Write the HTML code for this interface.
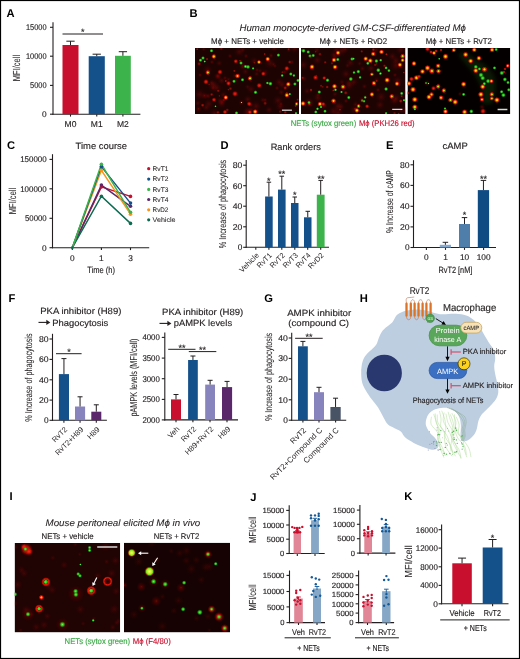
<!DOCTYPE html>
<html><head><meta charset="utf-8"><title>Figure</title>
<style>
html,body{margin:0;padding:0;background:#fff;}
body{width:520px;height:659px;overflow:hidden;}
svg{display:block;font-family:"Liberation Sans",sans-serif;will-change:transform;text-rendering:geometricPrecision;}
</style></head><body>
<svg width="520" height="659" viewBox="0 0 520 659" fill="#231f20">
<defs>
<radialGradient id="gLY"><stop offset="0" stop-color="#f0ff70"/><stop offset="0.35" stop-color="#c8f030"/><stop offset="0.62" stop-color="#80d818"/><stop offset="0.8" stop-color="#c84000" stop-opacity="0.6"/><stop offset="1" stop-color="#900000" stop-opacity="0"/></radialGradient>
<radialGradient id="gR"><stop offset="0" stop-color="#ff3010" stop-opacity="0.95"/><stop offset="0.45" stop-color="#d81408" stop-opacity="0.8"/><stop offset="1" stop-color="#900000" stop-opacity="0"/></radialGradient>
<radialGradient id="gY"><stop offset="0" stop-color="#f8f040"/><stop offset="0.26" stop-color="#f4c000"/><stop offset="0.46" stop-color="#f05010"/><stop offset="0.6" stop-color="#e02008" stop-opacity="0.9"/><stop offset="0.8" stop-color="#c01000" stop-opacity="0.55"/><stop offset="1" stop-color="#900000" stop-opacity="0"/></radialGradient>
<radialGradient id="gG"><stop offset="0" stop-color="#66ff44"/><stop offset="0.45" stop-color="#2ad620" stop-opacity="0.85"/><stop offset="1" stop-color="#109010" stop-opacity="0"/></radialGradient>
<radialGradient id="gGR"><stop offset="0" stop-color="#8cff3a"/><stop offset="0.25" stop-color="#b0d818"/><stop offset="0.45" stop-color="#f02c08"/><stop offset="0.75" stop-color="#d01000" stop-opacity="0.7"/><stop offset="1" stop-color="#900000" stop-opacity="0"/></radialGradient>
<radialGradient id="gD"><stop offset="0" stop-color="#a01008" stop-opacity="0.55"/><stop offset="1" stop-color="#500000" stop-opacity="0"/></radialGradient>
<radialGradient id="gRing"><stop offset="0" stop-color="#58ff38"/><stop offset="0.3" stop-color="#30d020"/><stop offset="0.42" stop-color="#802008" stop-opacity="0.85"/><stop offset="0.56" stop-color="#e81a08"/><stop offset="0.78" stop-color="#d01000" stop-opacity="0.75"/><stop offset="1" stop-color="#900000" stop-opacity="0"/></radialGradient>
<radialGradient id="gRing2"><stop offset="0" stop-color="#300000" stop-opacity="0.3"/><stop offset="0.45" stop-color="#700000" stop-opacity="0.6"/><stop offset="0.68" stop-color="#f01c08"/><stop offset="0.85" stop-color="#c81000" stop-opacity="0.7"/><stop offset="1" stop-color="#900000" stop-opacity="0"/></radialGradient>
<filter id="blur2" x="-20%" y="-20%" width="140%" height="140%"><feGaussianBlur stdDeviation="2"/></filter><filter id="blur05" x="-5%" y="-5%" width="110%" height="110%"><feGaussianBlur stdDeviation="0.45"/></filter></defs>
<text x="6.6" y="17.2" font-size="11.2" fill="#000" font-weight="bold">A</text>
<line x1="53" y1="22.3" x2="53" y2="114.75" stroke="#231f20" stroke-width="1.1" />
<line x1="50" y1="27.3" x2="53" y2="27.3" stroke="#231f20" stroke-width="1.1" />
<text x="46.6" y="30.2" font-size="8.3" text-anchor="end" stroke="#231f20" stroke-width="0.15" textLength="20.6" lengthAdjust="spacingAndGlyphs">15000</text>
<line x1="50" y1="56.2" x2="53" y2="56.2" stroke="#231f20" stroke-width="1.1" />
<text x="46.6" y="59.1" font-size="8.3" text-anchor="end" stroke="#231f20" stroke-width="0.15" textLength="20.6" lengthAdjust="spacingAndGlyphs">10000</text>
<line x1="50" y1="85.4" x2="53" y2="85.4" stroke="#231f20" stroke-width="1.1" />
<text x="46.6" y="88.3" font-size="8.3" text-anchor="end" stroke="#231f20" stroke-width="0.15" textLength="16.5" lengthAdjust="spacingAndGlyphs">5000</text>
<line x1="50" y1="114.2" x2="53" y2="114.2" stroke="#231f20" stroke-width="1.1" />
<text x="46.6" y="117.1" font-size="8.3" text-anchor="end" stroke="#231f20" stroke-width="0.15">0</text>
<line x1="52.45" y1="114.2" x2="140.4" y2="114.2" stroke="#231f20" stroke-width="1.1" />
<line x1="70.5" y1="114.2" x2="70.5" y2="116.6" stroke="#231f20" stroke-width="1.1" />
<line x1="96.75" y1="114.2" x2="96.75" y2="116.6" stroke="#231f20" stroke-width="1.1" />
<line x1="122.9" y1="114.2" x2="122.9" y2="116.6" stroke="#231f20" stroke-width="1.1" />
<rect x="62.5" y="45" width="16" height="69.2" fill="#c8102e" />
<line x1="70.5" y1="45" x2="70.5" y2="41.2" stroke="#231f20" stroke-width="1" />
<line x1="66.35" y1="41.2" x2="74.65" y2="41.2" stroke="#231f20" stroke-width="1" />
<rect x="88.7" y="56.2" width="16.1" height="58" fill="#14508a" />
<line x1="96.75" y1="56.2" x2="96.75" y2="54.2" stroke="#231f20" stroke-width="1" />
<line x1="92.6" y1="54.2" x2="100.9" y2="54.2" stroke="#231f20" stroke-width="1" />
<rect x="115" y="55.8" width="15.8" height="58.4" fill="#3cb44b" />
<line x1="122.9" y1="55.8" x2="122.9" y2="51.7" stroke="#231f20" stroke-width="1" />
<line x1="118.75" y1="51.7" x2="127.05" y2="51.7" stroke="#231f20" stroke-width="1" />
<line x1="62.5" y1="34" x2="103" y2="34" stroke="#231f20" stroke-width="1" />
<text x="82.7" y="34.84" font-size="9" text-anchor="middle" stroke="#231f20" stroke-width="0.15">*</text>
<text x="70.5" y="126.6" font-size="8.5" text-anchor="middle" stroke="#231f20" stroke-width="0.15">M0</text>
<text x="96.75" y="126.6" font-size="8.5" text-anchor="middle" stroke="#231f20" stroke-width="0.15">M1</text>
<text x="122.9" y="126.6" font-size="8.5" text-anchor="middle" stroke="#231f20" stroke-width="0.15">M2</text>
<text x="19.6" y="68" font-size="10.2" text-anchor="middle" stroke="#231f20" stroke-width="0.05" textLength="26.3" lengthAdjust="spacingAndGlyphs" transform="rotate(-90 19.6 68)">MFI/cell</text>
<text x="189.6" y="17.2" font-size="11.2" fill="#000" font-weight="bold">B</text>
<text x="352.7" y="31" font-size="9.3" text-anchor="middle" stroke="#231f20" stroke-width="0.07" font-style="italic" textLength="226.5" lengthAdjust="spacingAndGlyphs">Human monocyte-derived GM-CSF-differentiated Mϕ</text>
<text x="247.5" y="43.7" font-size="8.3" text-anchor="middle" stroke="#231f20" stroke-width="0.15" textLength="73" lengthAdjust="spacingAndGlyphs">Mϕ + NETs + vehicle</text>
<text x="353.4" y="43.7" font-size="8.3" text-anchor="middle" stroke="#231f20" stroke-width="0.15" textLength="67.6" lengthAdjust="spacingAndGlyphs">Mϕ + NETs + RvD2</text>
<text x="458.8" y="43.7" font-size="8.3" text-anchor="middle" stroke="#231f20" stroke-width="0.15" textLength="66.2" lengthAdjust="spacingAndGlyphs">Mϕ + NETs + RvT2</text>
<clipPath id="cB1"><rect x="195" y="48" width="104" height="66"/></clipPath>
<g clip-path="url(#cB1)">
<rect x="195" y="48" width="104" height="66" fill="#1e0303" />
<circle cx="208.97" cy="103.93" r="5.17" fill="url(#gD)" opacity="0.6"/>
<circle cx="221.53" cy="80.7" r="4.07" fill="url(#gD)" opacity="0.6"/>
<circle cx="262.77" cy="100.06" r="2.83" fill="url(#gD)" opacity="0.6"/>
<circle cx="197.95" cy="103.16" r="4.01" fill="url(#gD)" opacity="0.6"/>
<circle cx="274.28" cy="48.14" r="4.06" fill="url(#gD)" opacity="0.6"/>
<circle cx="270.04" cy="63.1" r="5.81" fill="url(#gD)" opacity="0.6"/>
<circle cx="288.75" cy="50.02" r="2.59" fill="url(#gD)" opacity="0.6"/>
<circle cx="251.31" cy="109.98" r="3.83" fill="url(#gD)" opacity="0.6"/>
<circle cx="217.53" cy="75.86" r="2.6" fill="url(#gD)" opacity="0.6"/>
<circle cx="218.06" cy="76.9" r="4.24" fill="url(#gD)" opacity="0.6"/>
<circle cx="219.24" cy="63.24" r="3.27" fill="url(#gD)" opacity="0.6"/>
<circle cx="242.8" cy="67.13" r="2.58" fill="url(#gD)" opacity="0.6"/>
<circle cx="282.11" cy="84.73" r="4.75" fill="url(#gD)" opacity="0.6"/>
<circle cx="214.33" cy="113.51" r="5.51" fill="url(#gD)" opacity="0.6"/>
<circle cx="207.57" cy="69.96" r="5.03" fill="url(#gD)" opacity="0.6"/>
<circle cx="268.96" cy="109.81" r="3.98" fill="url(#gD)" opacity="0.6"/>
<circle cx="281.32" cy="92.24" r="3.56" fill="url(#gD)" opacity="0.6"/>
<circle cx="256.11" cy="106.24" r="5.46" fill="url(#gD)" opacity="0.6"/>
<circle cx="247.55" cy="86.87" r="2.62" fill="url(#gD)" opacity="0.6"/>
<circle cx="220.24" cy="100.63" r="3.95" fill="url(#gD)" opacity="0.6"/>
<circle cx="212.99" cy="84.22" r="4.96" fill="url(#gD)" opacity="0.6"/>
<circle cx="265.15" cy="72.73" r="4.04" fill="url(#gD)" opacity="0.6"/>
<circle cx="247.88" cy="99.38" r="4.32" fill="url(#gD)" opacity="0.6"/>
<circle cx="235.9" cy="80.32" r="2.6" fill="url(#gD)" opacity="0.6"/>
<circle cx="199.52" cy="94.42" r="5.94" fill="url(#gD)" opacity="0.6"/>
<circle cx="256.69" cy="73.98" r="3.1" fill="url(#gD)" opacity="0.6"/>
<circle cx="247.23" cy="112.82" r="5.2" fill="url(#gD)" opacity="0.6"/>
<circle cx="251.12" cy="104.78" r="3.31" fill="url(#gD)" opacity="0.6"/>
<circle cx="248.43" cy="110.86" r="4.52" fill="url(#gD)" opacity="0.6"/>
<circle cx="242.75" cy="65.77" r="4.42" fill="url(#gD)" opacity="0.6"/>
<circle cx="294.54" cy="48.38" r="5.24" fill="url(#gD)" opacity="0.6"/>
<circle cx="280.33" cy="106.49" r="5.09" fill="url(#gD)" opacity="0.6"/>
<circle cx="279.15" cy="82.23" r="4.46" fill="url(#gD)" opacity="0.6"/>
<circle cx="239.31" cy="51.7" r="5.55" fill="url(#gD)" opacity="0.6"/>
<circle cx="254.28" cy="61.19" r="4.27" fill="url(#gD)" opacity="0.6"/>
<circle cx="245.43" cy="71.55" r="3.71" fill="url(#gD)" opacity="0.6"/>
<circle cx="251" cy="89.15" r="4.64" fill="url(#gD)" opacity="0.6"/>
<circle cx="242.65" cy="49.85" r="3.3" fill="url(#gD)" opacity="0.6"/>
<circle cx="213.43" cy="86.57" r="5.51" fill="url(#gD)" opacity="0.6"/>
<circle cx="278.04" cy="100.61" r="5.36" fill="url(#gD)" opacity="0.6"/>
<circle cx="221.55" cy="103.56" r="4.86" fill="url(#gD)" opacity="0.6"/>
<circle cx="203.66" cy="49.1" r="2.55" fill="url(#gD)" opacity="0.6"/>
<circle cx="273.58" cy="64.47" r="2.88" fill="url(#gD)" opacity="0.6"/>
<circle cx="259.98" cy="70.73" r="2.74" fill="url(#gD)" opacity="0.6"/>
<circle cx="211.6" cy="82.81" r="3.09" fill="url(#gD)" opacity="0.6"/>
<circle cx="223.38" cy="94.96" r="4.09" fill="url(#gD)" opacity="0.6"/>
<circle cx="228.49" cy="79.27" r="2.58" fill="url(#gD)" opacity="0.6"/>
<circle cx="235.2" cy="75.78" r="3.16" fill="url(#gD)" opacity="0.6"/>
<circle cx="206.31" cy="107.39" r="4.29" fill="url(#gD)" opacity="0.6"/>
<circle cx="216.75" cy="87.97" r="5.36" fill="url(#gD)" opacity="0.6"/>
<circle cx="197.17" cy="49.18" r="1.35" fill="url(#gR)" opacity="0.6"/>
<circle cx="211.66" cy="94.5" r="1.88" fill="url(#gR)" opacity="0.54"/>
<circle cx="217.94" cy="112.39" r="2" fill="url(#gR)" opacity="0.53"/>
<circle cx="218.21" cy="90.8" r="1.59" fill="url(#gR)" opacity="0.55"/>
<circle cx="228.41" cy="89.64" r="1.26" fill="url(#gR)" opacity="0.45"/>
<circle cx="295.66" cy="105.79" r="1.51" fill="url(#gR)" opacity="0.65"/>
<circle cx="227.28" cy="109.99" r="1.94" fill="url(#gR)" opacity="0.5"/>
<circle cx="221.25" cy="48.56" r="2.08" fill="url(#gR)" opacity="0.36"/>
<circle cx="280.22" cy="111.51" r="1.77" fill="url(#gR)" opacity="0.41"/>
<circle cx="285.25" cy="112.27" r="1.9" fill="url(#gR)" opacity="0.53"/>
<circle cx="234.31" cy="70.9" r="1.41" fill="url(#gR)" opacity="0.59"/>
<circle cx="240.03" cy="60.81" r="1.3" fill="url(#gR)" opacity="0.58"/>
<circle cx="225.79" cy="80.99" r="1.53" fill="url(#gR)" opacity="0.66"/>
<circle cx="288.57" cy="49.19" r="1.4" fill="url(#gR)" opacity="0.46"/>
<circle cx="297.65" cy="99.66" r="1.54" fill="url(#gR)" opacity="0.42"/>
<circle cx="265.14" cy="103.29" r="2.13" fill="url(#gR)" opacity="0.47"/>
<circle cx="286.77" cy="93.35" r="1.68" fill="url(#gR)" opacity="0.69"/>
<circle cx="219.4" cy="95.88" r="1.28" fill="url(#gR)" opacity="0.41"/>
<circle cx="289.74" cy="62.06" r="1.96" fill="url(#gR)" opacity="0.56"/>
<circle cx="282.48" cy="72.3" r="1.54" fill="url(#gR)" opacity="0.45"/>
<circle cx="285.21" cy="87.86" r="2.15" fill="url(#gR)" opacity="0.66"/>
<circle cx="209.08" cy="84.38" r="1.3" fill="url(#gR)" opacity="0.36"/>
<circle cx="202.61" cy="105.17" r="1.99" fill="url(#gR)" opacity="0.64"/>
<circle cx="230.45" cy="88.6" r="1.98" fill="url(#gR)" opacity="0.48"/>
<circle cx="254.36" cy="62.77" r="1.28" fill="url(#gR)" opacity="0.44"/>
<circle cx="287.64" cy="85.25" r="2.13" fill="url(#gR)" opacity="0.51"/>
<circle cx="223.83" cy="99.94" r="2.03" fill="url(#gR)" opacity="0.35"/>
<circle cx="264.72" cy="54.05" r="1.32" fill="url(#gR)" opacity="0.66"/>
<circle cx="199.16" cy="63.82" r="2.19" fill="url(#gR)" opacity="0.5"/>
<circle cx="207.02" cy="59.05" r="1.44" fill="url(#gR)" opacity="0.61"/>
<g filter="url(#blur05)">
<circle cx="211.5" cy="50.8" r="2.03" fill="url(#gG)" />
<circle cx="213.8" cy="56.5" r="2.65" fill="url(#gY)" />
<circle cx="203" cy="58" r="2.03" fill="url(#gG)" />
<circle cx="200.5" cy="60.2" r="2.03" fill="url(#gG)" />
<circle cx="204.7" cy="61.5" r="1.4" fill="url(#gG)" />
<circle cx="235.8" cy="61.3" r="2.5" fill="url(#gR)" />
<circle cx="241" cy="63" r="2.03" fill="url(#gG)" />
<circle cx="245.5" cy="66.5" r="2.03" fill="url(#gG)" />
<circle cx="207.8" cy="72.5" r="2.65" fill="url(#gGR)" />
<circle cx="220" cy="72" r="2.81" fill="url(#gR)" />
<circle cx="218" cy="76" r="3.51" fill="url(#gD)" />
<circle cx="237.5" cy="76" r="2.65" fill="url(#gGR)" />
<circle cx="242.5" cy="79.8" r="2.03" fill="url(#gG)" />
<circle cx="234" cy="81.3" r="2.03" fill="url(#gG)" />
<circle cx="206" cy="81.8" r="2.96" fill="url(#gR)" />
<circle cx="228.5" cy="83.3" r="2.73" fill="url(#gR)" />
<circle cx="235" cy="93.8" r="3.12" fill="url(#gR)" />
<circle cx="204.5" cy="95.8" r="3.9" fill="url(#gD)" />
<circle cx="208" cy="96" r="3.12" fill="url(#gD)" />
<circle cx="225.8" cy="97.5" r="2.65" fill="url(#gY)" />
<circle cx="214" cy="99.8" r="2.5" fill="url(#gR)" />
<circle cx="222" cy="102" r="3.51" fill="url(#gD)" />
<circle cx="241.5" cy="102.5" r="3.12" fill="url(#gD)" />
<circle cx="241.5" cy="102.5" r="1.09" fill="url(#gG)" />
<circle cx="215.5" cy="106.3" r="1.25" fill="url(#gG)" />
<circle cx="198.5" cy="109" r="3.51" fill="url(#gD)" />
<circle cx="236.5" cy="113" r="2.03" fill="url(#gG)" />
<circle cx="225" cy="112" r="2.5" fill="url(#gR)" />
<circle cx="212" cy="62" r="2.34" fill="url(#gD)" />
<circle cx="230" cy="56" r="2.34" fill="url(#gD)" />
<circle cx="225" cy="78" r="2.34" fill="url(#gD)" />
<circle cx="246" cy="56" r="2.34" fill="url(#gD)" />
<circle cx="200" cy="75" r="2.34" fill="url(#gD)" />
<circle cx="213" cy="88" r="2.34" fill="url(#gD)" />
<circle cx="267.7" cy="59" r="2.65" fill="url(#gY)" />
<circle cx="271" cy="55.6" r="2.73" fill="url(#gD)" />
<circle cx="278.4" cy="55.1" r="2.03" fill="url(#gG)" />
<circle cx="259" cy="62.1" r="2.34" fill="url(#gY)" />
<circle cx="248" cy="66.9" r="2.34" fill="url(#gG)" />
<circle cx="253.1" cy="68.4" r="1.56" fill="url(#gG)" />
<circle cx="286.8" cy="68.4" r="2.73" fill="url(#gR)" />
<circle cx="284.7" cy="72" r="2.73" fill="url(#gD)" />
<circle cx="263.3" cy="73.7" r="2.57" fill="url(#gR)" />
<circle cx="290.8" cy="74" r="2.03" fill="url(#gG)" />
<circle cx="282.2" cy="75.5" r="1.72" fill="url(#gG)" />
<circle cx="293.9" cy="75.5" r="1.72" fill="url(#gG)" />
<circle cx="250" cy="78.4" r="2.65" fill="url(#gGR)" />
<circle cx="270.4" cy="83.7" r="2.34" fill="url(#gG)" />
<circle cx="267.4" cy="83" r="1.72" fill="url(#gG)" />
<circle cx="259.2" cy="85.5" r="2.96" fill="url(#gR)" />
<circle cx="288.3" cy="84.2" r="2.65" fill="url(#gY)" />
<circle cx="294.9" cy="84" r="2.03" fill="url(#gG)" />
<circle cx="298" cy="80.4" r="2.03" fill="url(#gG)" />
<circle cx="255.5" cy="92.3" r="2.18" fill="url(#gG)" />
<circle cx="286.8" cy="95.2" r="2.65" fill="url(#gY)" />
<circle cx="289.8" cy="94.1" r="1.56" fill="url(#gG)" />
<circle cx="249.2" cy="103.9" r="2.73" fill="url(#gR)" />
<circle cx="296.6" cy="103.9" r="2.18" fill="url(#gGR)" />
<circle cx="255.2" cy="111.7" r="2.81" fill="url(#gY)" />
<circle cx="249.9" cy="112.2" r="2.5" fill="url(#gR)" />
<circle cx="296" cy="113.2" r="1.56" fill="url(#gG)" />
<circle cx="257" cy="70" r="2.34" fill="url(#gD)" />
<circle cx="277" cy="88" r="2.34" fill="url(#gD)" />
<circle cx="281" cy="104" r="2.34" fill="url(#gD)" />
<circle cx="265" cy="100" r="2.34" fill="url(#gD)" />
<circle cx="292" cy="62" r="2.34" fill="url(#gD)" />
<circle cx="275" cy="66" r="1.95" fill="url(#gD)" />
</g>
<line x1="281.9" y1="110.2" x2="291.9" y2="110.2" stroke="#d8d8d8" stroke-width="1.3" />
</g>
<clipPath id="cB2"><rect x="301" y="48" width="104.5" height="66"/></clipPath>
<g clip-path="url(#cB2)">
<rect x="301" y="48" width="104.5" height="66" fill="#1e0303" />
<circle cx="400.91" cy="110.56" r="2.7" fill="url(#gD)" opacity="0.6"/>
<circle cx="309.87" cy="103.14" r="5.08" fill="url(#gD)" opacity="0.6"/>
<circle cx="370.99" cy="68.34" r="4.62" fill="url(#gD)" opacity="0.6"/>
<circle cx="364.41" cy="86.36" r="3.05" fill="url(#gD)" opacity="0.6"/>
<circle cx="346" cy="73.97" r="5.03" fill="url(#gD)" opacity="0.6"/>
<circle cx="404.96" cy="110.66" r="4.4" fill="url(#gD)" opacity="0.6"/>
<circle cx="347.49" cy="65.7" r="2.63" fill="url(#gD)" opacity="0.6"/>
<circle cx="303.87" cy="78.68" r="3.61" fill="url(#gD)" opacity="0.6"/>
<circle cx="340.71" cy="106.86" r="4.34" fill="url(#gD)" opacity="0.6"/>
<circle cx="359.57" cy="63.58" r="2.58" fill="url(#gD)" opacity="0.6"/>
<circle cx="334.98" cy="57.02" r="4.29" fill="url(#gD)" opacity="0.6"/>
<circle cx="405.36" cy="92.52" r="3.14" fill="url(#gD)" opacity="0.6"/>
<circle cx="394.38" cy="100.59" r="5.07" fill="url(#gD)" opacity="0.6"/>
<circle cx="395.74" cy="98.35" r="5.26" fill="url(#gD)" opacity="0.6"/>
<circle cx="337.97" cy="112.74" r="5.87" fill="url(#gD)" opacity="0.6"/>
<circle cx="317.84" cy="97.76" r="5" fill="url(#gD)" opacity="0.6"/>
<circle cx="349.22" cy="83" r="4.22" fill="url(#gD)" opacity="0.6"/>
<circle cx="397.64" cy="81.06" r="5.41" fill="url(#gD)" opacity="0.6"/>
<circle cx="337.99" cy="106.27" r="5.65" fill="url(#gD)" opacity="0.6"/>
<circle cx="349.18" cy="85.47" r="5.72" fill="url(#gD)" opacity="0.6"/>
<circle cx="376.63" cy="80.12" r="3.28" fill="url(#gD)" opacity="0.6"/>
<circle cx="334.93" cy="94.17" r="3.08" fill="url(#gD)" opacity="0.6"/>
<circle cx="395.88" cy="65.7" r="5.69" fill="url(#gD)" opacity="0.6"/>
<circle cx="333.35" cy="111.19" r="4.97" fill="url(#gD)" opacity="0.6"/>
<circle cx="353.69" cy="82.17" r="4.78" fill="url(#gD)" opacity="0.6"/>
<circle cx="362.44" cy="68.58" r="3.23" fill="url(#gD)" opacity="0.6"/>
<circle cx="354.49" cy="109.65" r="4.68" fill="url(#gD)" opacity="0.6"/>
<circle cx="308.88" cy="102.15" r="5.04" fill="url(#gD)" opacity="0.6"/>
<circle cx="395.85" cy="60.63" r="5.11" fill="url(#gD)" opacity="0.6"/>
<circle cx="307.14" cy="91.09" r="3.46" fill="url(#gD)" opacity="0.6"/>
<circle cx="324.68" cy="105.78" r="2.87" fill="url(#gD)" opacity="0.6"/>
<circle cx="355.59" cy="104.36" r="3.36" fill="url(#gD)" opacity="0.6"/>
<circle cx="323" cy="106.12" r="3.98" fill="url(#gD)" opacity="0.6"/>
<circle cx="375.92" cy="50.1" r="3.77" fill="url(#gD)" opacity="0.6"/>
<circle cx="318.96" cy="92.4" r="2.79" fill="url(#gD)" opacity="0.6"/>
<circle cx="400.75" cy="49.67" r="5.05" fill="url(#gD)" opacity="0.6"/>
<circle cx="303.21" cy="64.88" r="5.35" fill="url(#gD)" opacity="0.6"/>
<circle cx="317.42" cy="60.13" r="4.92" fill="url(#gD)" opacity="0.6"/>
<circle cx="341.29" cy="50.85" r="5.97" fill="url(#gD)" opacity="0.6"/>
<circle cx="316.82" cy="50.39" r="3.7" fill="url(#gD)" opacity="0.6"/>
<circle cx="365.29" cy="97" r="2.9" fill="url(#gD)" opacity="0.6"/>
<circle cx="336.24" cy="50.03" r="4.07" fill="url(#gD)" opacity="0.6"/>
<circle cx="381.04" cy="96.84" r="5.66" fill="url(#gD)" opacity="0.6"/>
<circle cx="379.97" cy="104.92" r="4.97" fill="url(#gD)" opacity="0.6"/>
<circle cx="350.41" cy="62.88" r="4.81" fill="url(#gD)" opacity="0.6"/>
<circle cx="334.05" cy="54.74" r="4.07" fill="url(#gD)" opacity="0.6"/>
<circle cx="392.41" cy="56.42" r="4.55" fill="url(#gD)" opacity="0.6"/>
<circle cx="342.06" cy="81.98" r="3" fill="url(#gD)" opacity="0.6"/>
<circle cx="401.29" cy="65.1" r="4.62" fill="url(#gD)" opacity="0.6"/>
<circle cx="344.86" cy="49.19" r="4.45" fill="url(#gD)" opacity="0.6"/>
<circle cx="315.69" cy="51.75" r="1.23" fill="url(#gR)" opacity="0.41"/>
<circle cx="311.02" cy="89.91" r="1.71" fill="url(#gR)" opacity="0.69"/>
<circle cx="398.62" cy="113.64" r="1.43" fill="url(#gR)" opacity="0.51"/>
<circle cx="327.21" cy="87.02" r="1.82" fill="url(#gR)" opacity="0.63"/>
<circle cx="375.14" cy="64.94" r="1.62" fill="url(#gR)" opacity="0.53"/>
<circle cx="301.5" cy="50.34" r="1.61" fill="url(#gR)" opacity="0.39"/>
<circle cx="376.63" cy="63.9" r="1.3" fill="url(#gR)" opacity="0.41"/>
<circle cx="325.19" cy="62.35" r="1.72" fill="url(#gR)" opacity="0.51"/>
<circle cx="333.37" cy="90.36" r="1.41" fill="url(#gR)" opacity="0.67"/>
<circle cx="401.65" cy="96.11" r="1.63" fill="url(#gR)" opacity="0.53"/>
<circle cx="361.72" cy="51.38" r="1.62" fill="url(#gR)" opacity="0.53"/>
<circle cx="319.94" cy="54.19" r="2" fill="url(#gR)" opacity="0.48"/>
<circle cx="355.26" cy="108.82" r="1.81" fill="url(#gR)" opacity="0.45"/>
<circle cx="403.78" cy="72.57" r="1.22" fill="url(#gR)" opacity="0.59"/>
<circle cx="311.57" cy="68.19" r="2.04" fill="url(#gR)" opacity="0.59"/>
<circle cx="302.64" cy="77.79" r="1.61" fill="url(#gR)" opacity="0.52"/>
<circle cx="322.76" cy="86.86" r="1.27" fill="url(#gR)" opacity="0.45"/>
<circle cx="339.97" cy="109.73" r="1.28" fill="url(#gR)" opacity="0.61"/>
<circle cx="321.1" cy="85.72" r="1.59" fill="url(#gR)" opacity="0.51"/>
<circle cx="379.75" cy="74.07" r="1.32" fill="url(#gR)" opacity="0.39"/>
<circle cx="309.41" cy="104.1" r="1.84" fill="url(#gR)" opacity="0.69"/>
<circle cx="373.38" cy="49.63" r="1.86" fill="url(#gR)" opacity="0.62"/>
<circle cx="376.61" cy="80.86" r="1.56" fill="url(#gR)" opacity="0.51"/>
<circle cx="384.47" cy="65.75" r="1.73" fill="url(#gR)" opacity="0.52"/>
<circle cx="400.77" cy="101.09" r="2.13" fill="url(#gR)" opacity="0.64"/>
<circle cx="332.01" cy="63.29" r="1.69" fill="url(#gR)" opacity="0.44"/>
<circle cx="345.69" cy="92.82" r="2.12" fill="url(#gR)" opacity="0.56"/>
<circle cx="386.47" cy="54.33" r="1.56" fill="url(#gR)" opacity="0.7"/>
<circle cx="316.31" cy="75.51" r="1.27" fill="url(#gR)" opacity="0.38"/>
<circle cx="394.58" cy="113.25" r="1.85" fill="url(#gR)" opacity="0.39"/>
<g filter="url(#blur05)">
<circle cx="303.5" cy="50.8" r="2.34" fill="url(#gG)" />
<circle cx="308.2" cy="52" r="2.03" fill="url(#gG)" />
<circle cx="310" cy="56" r="2.03" fill="url(#gG)" />
<circle cx="313.2" cy="55.5" r="2.03" fill="url(#gG)" />
<circle cx="338" cy="52.8" r="2.65" fill="url(#gY)" />
<circle cx="334" cy="60" r="2.65" fill="url(#gY)" />
<circle cx="337.8" cy="59.5" r="2.03" fill="url(#gG)" />
<circle cx="352" cy="59" r="2.03" fill="url(#gG)" />
<circle cx="312" cy="66.8" r="2.81" fill="url(#gY)" />
<circle cx="335" cy="67" r="2.73" fill="url(#gY)" />
<circle cx="315.5" cy="77.5" r="2.81" fill="url(#gR)" />
<circle cx="324.2" cy="78" r="2.18" fill="url(#gR)" />
<circle cx="327.5" cy="80.2" r="2.18" fill="url(#gG)" />
<circle cx="350.8" cy="79" r="2.34" fill="url(#gG)" />
<circle cx="334.5" cy="86.3" r="2.81" fill="url(#gY)" />
<circle cx="343" cy="86.8" r="2.81" fill="url(#gGR)" />
<circle cx="335.5" cy="89.8" r="1.72" fill="url(#gG)" />
<circle cx="319.3" cy="92" r="2.03" fill="url(#gG)" />
<circle cx="341.5" cy="92" r="1.56" fill="url(#gG)" />
<circle cx="348.8" cy="97.5" r="2.03" fill="url(#gG)" />
<circle cx="333.5" cy="100.8" r="2.73" fill="url(#gGR)" />
<circle cx="303" cy="103.5" r="2.81" fill="url(#gY)" />
<circle cx="309" cy="102.5" r="1.95" fill="url(#gG)" />
<circle cx="320" cy="104" r="2.65" fill="url(#gY)" />
<circle cx="323.2" cy="104" r="2.34" fill="url(#gR)" />
<circle cx="321" cy="107" r="1.56" fill="url(#gG)" />
<circle cx="317.5" cy="108.8" r="1.72" fill="url(#gG)" />
<circle cx="315.8" cy="112" r="1.95" fill="url(#gG)" />
<circle cx="325" cy="111.2" r="1.95" fill="url(#gG)" />
<circle cx="311" cy="57" r="2.34" fill="url(#gD)" />
<circle cx="318" cy="95" r="2.34" fill="url(#gD)" />
<circle cx="346" cy="101" r="2.34" fill="url(#gD)" />
<circle cx="381.5" cy="51.9" r="2.65" fill="url(#gY)" />
<circle cx="373.2" cy="53.9" r="2.65" fill="url(#gGR)" />
<circle cx="402.6" cy="56.2" r="2.65" fill="url(#gGR)" />
<circle cx="353.5" cy="58.7" r="1.56" fill="url(#gG)" />
<circle cx="365.7" cy="58.7" r="2.65" fill="url(#gY)" />
<circle cx="370.3" cy="60.7" r="2.81" fill="url(#gY)" />
<circle cx="376.4" cy="61" r="2.18" fill="url(#gG)" />
<circle cx="380.7" cy="60.2" r="1.72" fill="url(#gG)" />
<circle cx="402.6" cy="60.2" r="2.34" fill="url(#gY)" />
<circle cx="367.8" cy="63.3" r="1.95" fill="url(#gG)" />
<circle cx="399.9" cy="64.8" r="2.65" fill="url(#gY)" />
<circle cx="378.3" cy="70.2" r="2.34" fill="url(#gG)" />
<circle cx="386.1" cy="67.9" r="1.87" fill="url(#gG)" />
<circle cx="388.9" cy="70.6" r="1.87" fill="url(#gG)" />
<circle cx="358.3" cy="71.6" r="2.18" fill="url(#gG)" />
<circle cx="354" cy="72.5" r="1.72" fill="url(#gG)" />
<circle cx="380.5" cy="73.5" r="1.72" fill="url(#gG)" />
<circle cx="371.9" cy="74.3" r="2.18" fill="url(#gGR)" />
<circle cx="360.1" cy="77.4" r="1.72" fill="url(#gG)" />
<circle cx="387.1" cy="80.1" r="2.96" fill="url(#gY)" />
<circle cx="373.9" cy="83.2" r="2.65" fill="url(#gGR)" />
<circle cx="397" cy="83.7" r="2.65" fill="url(#gY)" />
<circle cx="386.1" cy="89" r="2.18" fill="url(#gG)" />
<circle cx="401.7" cy="93.4" r="1.95" fill="url(#gG)" />
<circle cx="371.9" cy="94.4" r="2.65" fill="url(#gY)" />
<circle cx="391.7" cy="96.4" r="2.65" fill="url(#gGR)" />
<circle cx="365.2" cy="97.4" r="1.72" fill="url(#gG)" />
<circle cx="362.2" cy="100.5" r="1.72" fill="url(#gG)" />
<circle cx="364" cy="101.2" r="1.72" fill="url(#gG)" />
<circle cx="404" cy="100.2" r="1.56" fill="url(#gG)" />
<circle cx="358.6" cy="106.1" r="2.34" fill="url(#gGR)" />
<circle cx="367.1" cy="106.3" r="2.34" fill="url(#gR)" />
<circle cx="356.9" cy="110.4" r="2.65" fill="url(#gY)" />
<circle cx="386.1" cy="113.2" r="1.56" fill="url(#gG)" />
<circle cx="362" cy="100" r="3.12" fill="url(#gD)" />
<circle cx="395" cy="75" r="2.34" fill="url(#gD)" />
<circle cx="378" cy="90" r="2.34" fill="url(#gD)" />
</g>
<line x1="392.2" y1="109.4" x2="402.4" y2="109.4" stroke="#d8d8d8" stroke-width="1.3" />
</g>
<clipPath id="cB3"><rect x="407.5" y="48" width="102.8" height="66"/></clipPath>
<g clip-path="url(#cB3)">
<rect x="407.5" y="48" width="102.8" height="66" fill="#050000" />
<path d="M466 52 C476 62 482 60 492 72 C498 80 496 92 492 104 L482 104 C484 92 480 82 474 74 C468 66 462 60 458 54 Z" fill="#174d10" opacity="0.35" filter="url(#blur2)"/>
<g filter="url(#blur05)">
<circle cx="427.5" cy="49" r="2.73" fill="url(#gR)" />
<circle cx="431" cy="52" r="1.95" fill="url(#gR)" />
<circle cx="436" cy="51" r="1.95" fill="url(#gR)" />
<circle cx="441" cy="50" r="1.56" fill="url(#gR)" />
<circle cx="434" cy="53" r="2.34" fill="url(#gY)" />
<circle cx="445.5" cy="56.5" r="3.12" fill="url(#gY)" />
<circle cx="453.8" cy="50.2" r="2.34" fill="url(#gGR)" />
<circle cx="439.2" cy="58.8" r="1.25" fill="url(#gG)" />
<circle cx="414" cy="63.5" r="2.73" fill="url(#gY)" />
<circle cx="427.5" cy="68" r="3.12" fill="url(#gY)" />
<circle cx="438.2" cy="65.8" r="2.65" fill="url(#gGR)" />
<circle cx="422.5" cy="71.5" r="2.73" fill="url(#gY)" />
<circle cx="431.8" cy="71" r="3.12" fill="url(#gGR)" />
<circle cx="438.5" cy="71.2" r="2.65" fill="url(#gGR)" />
<circle cx="411.5" cy="79" r="2.73" fill="url(#gR)" />
<circle cx="416.5" cy="77.8" r="2.96" fill="url(#gY)" />
<circle cx="419" cy="76.5" r="2.34" fill="url(#gR)" />
<circle cx="409" cy="83.5" r="2.73" fill="url(#gY)" />
<circle cx="413" cy="89.5" r="3.12" fill="url(#gY)" />
<circle cx="427" cy="83" r="3.51" fill="url(#gD)" />
<circle cx="426" cy="83" r="1.17" fill="url(#gG)" />
<circle cx="428.5" cy="83.5" r="1.17" fill="url(#gG)" />
<circle cx="438.2" cy="86.5" r="2.65" fill="url(#gGR)" />
<circle cx="433.5" cy="88.3" r="2.65" fill="url(#gR)" />
<circle cx="443.8" cy="90.5" r="2.65" fill="url(#gGR)" />
<circle cx="431.5" cy="94.5" r="2.65" fill="url(#gGR)" />
<circle cx="429" cy="97" r="2.96" fill="url(#gY)" />
<circle cx="441" cy="97.7" r="2.65" fill="url(#gGR)" />
<circle cx="414.8" cy="99.5" r="3.12" fill="url(#gY)" />
<circle cx="450.5" cy="100" r="2.65" fill="url(#gGR)" />
<circle cx="455.2" cy="102" r="3.12" fill="url(#gY)" />
<circle cx="414.8" cy="107" r="2.96" fill="url(#gY)" />
<circle cx="414.8" cy="109.2" r="1.56" fill="url(#gG)" />
<circle cx="445" cy="108.5" r="1.56" fill="url(#gG)" />
<circle cx="445.5" cy="111.5" r="2.73" fill="url(#gY)" />
<circle cx="407.5" cy="93" r="1.95" fill="url(#gR)" />
<circle cx="474.3" cy="49.8" r="2.65" fill="url(#gY)" />
<circle cx="492.1" cy="49.8" r="2.65" fill="url(#gY)" />
<circle cx="496.2" cy="49.5" r="1.95" fill="url(#gG)" />
<circle cx="465.6" cy="54.6" r="2.96" fill="url(#gY)" />
<circle cx="478.9" cy="58.2" r="2.73" fill="url(#gY)" />
<circle cx="470.7" cy="61" r="2.81" fill="url(#gY)" />
<circle cx="475.8" cy="66.9" r="2.34" fill="url(#gG)" />
<circle cx="475.8" cy="70.6" r="2.96" fill="url(#gY)" />
<circle cx="479.4" cy="68.9" r="1.87" fill="url(#gG)" />
<circle cx="484.5" cy="69.4" r="2.96" fill="url(#gGR)" />
<circle cx="494.5" cy="67.9" r="1.95" fill="url(#gG)" />
<circle cx="507.7" cy="65.8" r="2.18" fill="url(#gGR)" />
<circle cx="505" cy="69" r="1.56" fill="url(#gR)" />
<circle cx="504" cy="72" r="1.56" fill="url(#gR)" />
<circle cx="501.8" cy="73" r="2.5" fill="url(#gG)" />
<circle cx="481" cy="75" r="2.65" fill="url(#gG)" />
<circle cx="482.7" cy="78.1" r="2.65" fill="url(#gG)" />
<circle cx="504.9" cy="79.4" r="2.34" fill="url(#gG)" />
<circle cx="488.1" cy="81.1" r="2.5" fill="url(#gG)" />
<circle cx="491.4" cy="81.1" r="2.34" fill="url(#gY)" />
<circle cx="508" cy="82.5" r="1.95" fill="url(#gG)" />
<circle cx="463.6" cy="84.2" r="2.96" fill="url(#gY)" />
<circle cx="484.3" cy="83.7" r="2.03" fill="url(#gG)" />
<circle cx="482.7" cy="86.7" r="2.96" fill="url(#gY)" />
<circle cx="508.8" cy="89.8" r="2.03" fill="url(#gG)" />
<circle cx="501.6" cy="91.8" r="2.03" fill="url(#gG)" />
<circle cx="463.6" cy="94.4" r="1.95" fill="url(#gG)" />
<circle cx="480.9" cy="94.4" r="3.12" fill="url(#gY)" />
<circle cx="491.8" cy="94.4" r="2.65" fill="url(#gGR)" />
<circle cx="503.4" cy="95.1" r="2.5" fill="url(#gG)" />
<circle cx="491.8" cy="98.5" r="2.34" fill="url(#gGR)" />
<circle cx="496.9" cy="100" r="3.12" fill="url(#gY)" />
<circle cx="482" cy="99.5" r="2.34" fill="url(#gGR)" />
<circle cx="460" cy="93.9" r="2.34" fill="url(#gD)" />
<circle cx="464.6" cy="112" r="2.96" fill="url(#gY)" />
<circle cx="471.3" cy="111.4" r="2.34" fill="url(#gG)" />
<circle cx="483" cy="111.2" r="3.12" fill="url(#gR)" />
<circle cx="482" cy="107" r="3.12" fill="url(#gD)" />
</g>
<line x1="497.6" y1="109.5" x2="507.4" y2="109.5" stroke="#d8d8d8" stroke-width="1.3" />
</g>
<text x="290.8" y="125.5" font-size="8.3" fill="#3aa845" stroke="#3aa845" stroke-width="0.15" textLength="65.4" lengthAdjust="spacingAndGlyphs">NETs (sytox green)</text>
<text x="358.9" y="125.5" font-size="8.3" fill="#c8102e" stroke="#c8102e" stroke-width="0.15" textLength="55.7" lengthAdjust="spacingAndGlyphs">Mϕ (PKH26 red)</text>
<text x="7.1" y="148.9" font-size="11.2" fill="#000" font-weight="bold">C</text>
<text x="75.6" y="149" font-size="9.2" stroke="#231f20" stroke-width="0.15" textLength="51.4" lengthAdjust="spacingAndGlyphs">Time course</text>
<line x1="52.5" y1="154.2" x2="52.5" y2="248.25" stroke="#231f20" stroke-width="1.1" />
<line x1="49.5" y1="159.4" x2="52.5" y2="159.4" stroke="#231f20" stroke-width="1.1" />
<text x="46.7" y="162.3" font-size="8.3" text-anchor="end" stroke="#231f20" stroke-width="0.15" textLength="26.5" lengthAdjust="spacingAndGlyphs">150000</text>
<line x1="49.5" y1="188.8" x2="52.5" y2="188.8" stroke="#231f20" stroke-width="1.1" />
<text x="46.7" y="191.7" font-size="8.3" text-anchor="end" stroke="#231f20" stroke-width="0.15" textLength="26.5" lengthAdjust="spacingAndGlyphs">100000</text>
<line x1="49.5" y1="218.3" x2="52.5" y2="218.3" stroke="#231f20" stroke-width="1.1" />
<text x="46.7" y="221.2" font-size="8.3" text-anchor="end" stroke="#231f20" stroke-width="0.15" textLength="21.7" lengthAdjust="spacingAndGlyphs">50000</text>
<line x1="49.5" y1="247.7" x2="52.5" y2="247.7" stroke="#231f20" stroke-width="1.1" />
<text x="46.7" y="250.6" font-size="8.3" text-anchor="end" stroke="#231f20" stroke-width="0.15">0</text>
<line x1="51.95" y1="247.7" x2="149.2" y2="247.7" stroke="#231f20" stroke-width="1.1" />
<line x1="72.3" y1="247.7" x2="72.3" y2="250.1" stroke="#231f20" stroke-width="1.1" />
<line x1="101.4" y1="247.7" x2="101.4" y2="250.1" stroke="#231f20" stroke-width="1.1" />
<line x1="130.5" y1="247.7" x2="130.5" y2="250.1" stroke="#231f20" stroke-width="1.1" />
<text x="72.3" y="260.6" font-size="8.3" text-anchor="middle" stroke="#231f20" stroke-width="0.15">0</text>
<text x="101.4" y="260.6" font-size="8.3" text-anchor="middle" stroke="#231f20" stroke-width="0.15">1</text>
<text x="130.5" y="260.6" font-size="8.3" text-anchor="middle" stroke="#231f20" stroke-width="0.15">3</text>
<text x="101.2" y="273.4" font-size="9" text-anchor="middle" stroke="#231f20" stroke-width="0.15" textLength="27.7" lengthAdjust="spacingAndGlyphs">Time (h)</text>
<text x="15.8" y="201" font-size="10.2" text-anchor="middle" stroke="#231f20" stroke-width="0.05" textLength="26.3" lengthAdjust="spacingAndGlyphs" transform="rotate(-90 15.8 201)">MFI/cell</text>
<polyline points="72.3,247.7 101.4,186.9 130.5,196.4" fill="none" stroke="#c8102e" stroke-width="1.45"/>
<polyline points="72.3,247.7 101.4,185.1 130.5,206.3" fill="none" stroke="#5b276b" stroke-width="1.45"/>
<polyline points="72.3,247.7 101.4,196.2 130.5,223.4" fill="none" stroke="#0d6b4f" stroke-width="1.45"/>
<polyline points="72.3,247.7 101.4,170.3 130.5,214.2" fill="none" stroke="#f7941d" stroke-width="1.45"/>
<polyline points="72.3,247.7 101.4,166.6 130.5,203.1" fill="none" stroke="#14508a" stroke-width="1.45"/>
<polyline points="72.3,247.7 101.4,164.3 130.5,212.3" fill="none" stroke="#3cb44b" stroke-width="1.45"/>
<circle cx="101.4" cy="186.9" r="1.8" fill="#c8102e" />
<circle cx="130.5" cy="196.4" r="1.8" fill="#c8102e" />
<circle cx="101.4" cy="185.1" r="1.8" fill="#5b276b" />
<circle cx="130.5" cy="206.3" r="1.8" fill="#5b276b" />
<circle cx="101.4" cy="196.2" r="1.8" fill="#0d6b4f" />
<circle cx="130.5" cy="223.4" r="1.8" fill="#0d6b4f" />
<circle cx="101.4" cy="170.3" r="1.8" fill="#f7941d" />
<circle cx="130.5" cy="214.2" r="1.8" fill="#f7941d" />
<circle cx="101.4" cy="166.6" r="1.8" fill="#14508a" />
<circle cx="130.5" cy="203.1" r="1.8" fill="#14508a" />
<circle cx="101.4" cy="164.3" r="1.8" fill="#3cb44b" />
<circle cx="130.5" cy="212.3" r="1.8" fill="#3cb44b" />
<circle cx="72.3" cy="247.7" r="1.4" fill="#0d6b4f" />
<circle cx="148.7" cy="168.7" r="1.6" fill="#c8102e" />
<text x="152.6" y="171" font-size="6.7" stroke="#231f20" stroke-width="0.07" textLength="15.8" lengthAdjust="spacingAndGlyphs">RvT1</text>
<circle cx="148.7" cy="179.1" r="1.6" fill="#14508a" />
<text x="152.6" y="181.4" font-size="6.7" stroke="#231f20" stroke-width="0.07" textLength="15.8" lengthAdjust="spacingAndGlyphs">RvT2</text>
<circle cx="148.7" cy="189.4" r="1.6" fill="#3cb44b" />
<text x="152.6" y="191.7" font-size="6.7" stroke="#231f20" stroke-width="0.07" textLength="15.8" lengthAdjust="spacingAndGlyphs">RvT3</text>
<circle cx="148.7" cy="199.5" r="1.6" fill="#5b276b" />
<text x="152.6" y="201.8" font-size="6.7" stroke="#231f20" stroke-width="0.07" textLength="15.8" lengthAdjust="spacingAndGlyphs">RvT4</text>
<circle cx="148.7" cy="209.8" r="1.6" fill="#f7941d" />
<text x="152.6" y="212.1" font-size="6.7" stroke="#231f20" stroke-width="0.07" textLength="15.8" lengthAdjust="spacingAndGlyphs">RvD2</text>
<circle cx="148.7" cy="219.8" r="1.6" fill="#0d6b4f" />
<text x="152.6" y="222.1" font-size="6.7" stroke="#231f20" stroke-width="0.07" textLength="22.9" lengthAdjust="spacingAndGlyphs">Vehicle</text>
<text x="220.6" y="149.2" font-size="11.2" fill="#000" font-weight="bold">D</text>
<text x="270.7" y="150" font-size="9.2" stroke="#231f20" stroke-width="0.15" textLength="50.2" lengthAdjust="spacingAndGlyphs">Rank orders</text>
<line x1="246.2" y1="160" x2="246.2" y2="247.85" stroke="#231f20" stroke-width="1.1" />
<line x1="243.2" y1="165.2" x2="246.2" y2="165.2" stroke="#231f20" stroke-width="1.1" />
<text x="242.4" y="168.1" font-size="8.3" text-anchor="end" stroke="#231f20" stroke-width="0.15" textLength="9.6" lengthAdjust="spacingAndGlyphs">80</text>
<line x1="243.2" y1="185.7" x2="246.2" y2="185.7" stroke="#231f20" stroke-width="1.1" />
<text x="242.4" y="188.6" font-size="8.3" text-anchor="end" stroke="#231f20" stroke-width="0.15" textLength="9.6" lengthAdjust="spacingAndGlyphs">60</text>
<line x1="243.2" y1="206.2" x2="246.2" y2="206.2" stroke="#231f20" stroke-width="1.1" />
<text x="242.4" y="209.1" font-size="8.3" text-anchor="end" stroke="#231f20" stroke-width="0.15" textLength="9.6" lengthAdjust="spacingAndGlyphs">40</text>
<line x1="243.2" y1="226.8" x2="246.2" y2="226.8" stroke="#231f20" stroke-width="1.1" />
<text x="242.4" y="229.7" font-size="8.3" text-anchor="end" stroke="#231f20" stroke-width="0.15" textLength="9.6" lengthAdjust="spacingAndGlyphs">20</text>
<line x1="243.2" y1="247.3" x2="246.2" y2="247.3" stroke="#231f20" stroke-width="1.1" />
<text x="242.4" y="250.2" font-size="8.3" text-anchor="end" stroke="#231f20" stroke-width="0.15">0</text>
<line x1="245.65" y1="247.3" x2="329" y2="247.3" stroke="#231f20" stroke-width="1.1" />
<line x1="255.8" y1="247.3" x2="255.8" y2="249.7" stroke="#231f20" stroke-width="1.1" />
<line x1="268.9" y1="247.3" x2="268.9" y2="249.7" stroke="#231f20" stroke-width="1.1" />
<line x1="281.8" y1="247.3" x2="281.8" y2="249.7" stroke="#231f20" stroke-width="1.1" />
<line x1="294.8" y1="247.3" x2="294.8" y2="249.7" stroke="#231f20" stroke-width="1.1" />
<line x1="307.7" y1="247.3" x2="307.7" y2="249.7" stroke="#231f20" stroke-width="1.1" />
<line x1="320.7" y1="247.3" x2="320.7" y2="249.7" stroke="#231f20" stroke-width="1.1" />
<rect x="265.1" y="196.5" width="7.6" height="50.8" fill="#14508a" />
<line x1="268.9" y1="196.5" x2="268.9" y2="182.2" stroke="#231f20" stroke-width="1" />
<line x1="266.65" y1="182.2" x2="271.15" y2="182.2" stroke="#231f20" stroke-width="1" />
<rect x="278" y="189.6" width="7.6" height="57.7" fill="#14508a" />
<line x1="281.8" y1="189.6" x2="281.8" y2="176.2" stroke="#231f20" stroke-width="1" />
<line x1="279.55" y1="176.2" x2="284.05" y2="176.2" stroke="#231f20" stroke-width="1" />
<rect x="291" y="203" width="7.5" height="44.3" fill="#14508a" />
<line x1="294.75" y1="203" x2="294.75" y2="197" stroke="#231f20" stroke-width="1" />
<line x1="292.5" y1="197" x2="297" y2="197" stroke="#231f20" stroke-width="1" />
<rect x="304" y="217.3" width="7.5" height="30" fill="#14508a" />
<line x1="307.75" y1="217.3" x2="307.75" y2="211.3" stroke="#231f20" stroke-width="1" />
<line x1="305.5" y1="211.3" x2="310" y2="211.3" stroke="#231f20" stroke-width="1" />
<rect x="316.8" y="194.7" width="7.8" height="52.6" fill="#3cb44b" />
<line x1="320.7" y1="194.7" x2="320.7" y2="180.4" stroke="#231f20" stroke-width="1" />
<line x1="318.45" y1="180.4" x2="322.95" y2="180.4" stroke="#231f20" stroke-width="1" />
<text x="268.8" y="183.54" font-size="9" text-anchor="middle" stroke="#231f20" stroke-width="0.15">*</text>
<text x="281.8" y="177.04" font-size="9" text-anchor="middle" stroke="#231f20" stroke-width="0.15">**</text>
<text x="294.7" y="198.34" font-size="9" text-anchor="middle" stroke="#231f20" stroke-width="0.15">*</text>
<text x="321" y="181.84" font-size="9" text-anchor="middle" stroke="#231f20" stroke-width="0.15">**</text>
<text transform="translate(259.4 255.9) rotate(-45)" font-size="7.5" text-anchor="end">Vehicle</text>
<text transform="translate(272.5 255.9) rotate(-45)" font-size="7.5" text-anchor="end">RvT1</text>
<text transform="translate(285.4 255.9) rotate(-45)" font-size="7.5" text-anchor="end">RvT2</text>
<text transform="translate(298.4 255.9) rotate(-45)" font-size="7.5" text-anchor="end">RvT3</text>
<text transform="translate(311.3 255.9) rotate(-45)" font-size="7.5" text-anchor="end">RvT4</text>
<text transform="translate(324.3 255.9) rotate(-45)" font-size="7.5" text-anchor="end">RvD2</text>
<text x="225.6" y="204" font-size="10" text-anchor="middle" stroke="#231f20" stroke-width="0.05" textLength="88.5" lengthAdjust="spacingAndGlyphs" transform="rotate(-90 225.6 204)">% Increase of phagocytosis</text>
<text x="386" y="148.6" font-size="11.2" fill="#000" font-weight="bold">E</text>
<text x="455.1" y="149.2" font-size="9.2" text-anchor="middle" stroke="#231f20" stroke-width="0.15" textLength="25.2" lengthAdjust="spacingAndGlyphs">cAMP</text>
<line x1="413.5" y1="160.2" x2="413.5" y2="248.05" stroke="#231f20" stroke-width="1.1" />
<line x1="410.5" y1="164.8" x2="413.5" y2="164.8" stroke="#231f20" stroke-width="1.1" />
<text x="409.6" y="167.7" font-size="8.3" text-anchor="end" stroke="#231f20" stroke-width="0.15" textLength="9.6" lengthAdjust="spacingAndGlyphs">80</text>
<line x1="410.5" y1="185.4" x2="413.5" y2="185.4" stroke="#231f20" stroke-width="1.1" />
<text x="409.6" y="188.3" font-size="8.3" text-anchor="end" stroke="#231f20" stroke-width="0.15" textLength="9.6" lengthAdjust="spacingAndGlyphs">60</text>
<line x1="410.5" y1="206.3" x2="413.5" y2="206.3" stroke="#231f20" stroke-width="1.1" />
<text x="409.6" y="209.2" font-size="8.3" text-anchor="end" stroke="#231f20" stroke-width="0.15" textLength="9.6" lengthAdjust="spacingAndGlyphs">40</text>
<line x1="410.5" y1="226.9" x2="413.5" y2="226.9" stroke="#231f20" stroke-width="1.1" />
<text x="409.6" y="229.8" font-size="8.3" text-anchor="end" stroke="#231f20" stroke-width="0.15" textLength="9.6" lengthAdjust="spacingAndGlyphs">20</text>
<line x1="410.5" y1="247.5" x2="413.5" y2="247.5" stroke="#231f20" stroke-width="1.1" />
<text x="409.6" y="250.4" font-size="8.3" text-anchor="end" stroke="#231f20" stroke-width="0.15">0</text>
<line x1="412.95" y1="247.5" x2="496" y2="247.5" stroke="#231f20" stroke-width="1.1" />
<line x1="426.4" y1="247.5" x2="426.4" y2="249.9" stroke="#231f20" stroke-width="1.1" />
<line x1="445.5" y1="247.5" x2="445.5" y2="249.9" stroke="#231f20" stroke-width="1.1" />
<line x1="464.5" y1="247.5" x2="464.5" y2="249.9" stroke="#231f20" stroke-width="1.1" />
<line x1="483.6" y1="247.5" x2="483.6" y2="249.9" stroke="#231f20" stroke-width="1.1" />
<rect x="439.8" y="244.8" width="11.2" height="2.7" fill="#86abd3" />
<line x1="445.4" y1="244.8" x2="445.4" y2="242.3" stroke="#231f20" stroke-width="1" />
<line x1="442.65" y1="242.3" x2="448.15" y2="242.3" stroke="#231f20" stroke-width="1" />
<rect x="459" y="224" width="11" height="23.5" fill="#4f7eab" />
<line x1="464.5" y1="224" x2="464.5" y2="217.6" stroke="#231f20" stroke-width="1" />
<line x1="461.75" y1="217.6" x2="467.25" y2="217.6" stroke="#231f20" stroke-width="1" />
<rect x="477.8" y="190.1" width="11.3" height="57.4" fill="#104c84" />
<line x1="483.45" y1="190.1" x2="483.45" y2="180.4" stroke="#231f20" stroke-width="1" />
<line x1="480.7" y1="180.4" x2="486.2" y2="180.4" stroke="#231f20" stroke-width="1" />
<text x="464.5" y="218.34" font-size="9" text-anchor="middle" stroke="#231f20" stroke-width="0.15">*</text>
<text x="483.6" y="181.94" font-size="9" text-anchor="middle" stroke="#231f20" stroke-width="0.15">**</text>
<text x="426.4" y="260" font-size="8.3" text-anchor="middle" stroke="#231f20" stroke-width="0.15">0</text>
<text x="445.5" y="260" font-size="8.3" text-anchor="middle" stroke="#231f20" stroke-width="0.15">1</text>
<text x="464.5" y="260" font-size="8.3" text-anchor="middle" stroke="#231f20" stroke-width="0.15">10</text>
<text x="483.6" y="260" font-size="8.3" text-anchor="middle" stroke="#231f20" stroke-width="0.15">100</text>
<text x="455.4" y="273.2" font-size="9" text-anchor="middle" stroke="#231f20" stroke-width="0.15" textLength="33.8" lengthAdjust="spacingAndGlyphs">RvT2 [nM]</text>
<text x="393.3" y="201.5" font-size="10" text-anchor="middle" stroke="#231f20" stroke-width="0.05" textLength="63" lengthAdjust="spacingAndGlyphs" transform="rotate(-90 393.3 201.5)">% Increase of cAMP</text>
<text x="8.4" y="301.8" font-size="11.2" fill="#000" font-weight="bold">F</text>
<text x="40.2" y="314.4" font-size="9" stroke="#231f20" stroke-width="0.15" textLength="81.2" lengthAdjust="spacingAndGlyphs">PKA inhibitor (H89)</text>
<line x1="38.5" y1="322.4" x2="47.3" y2="322.4" stroke="#231f20" stroke-width="1.1" />
<path d="M46.3 319.8 L50.3 322.4 L46.3 325 Z" fill="#231f20"/>
<text x="52.2" y="325.6" font-size="9" stroke="#231f20" stroke-width="0.15" textLength="56.1" lengthAdjust="spacingAndGlyphs">Phagocytosis</text>
<line x1="52.5" y1="333.8" x2="52.5" y2="420.85" stroke="#231f20" stroke-width="1.1" />
<line x1="49.5" y1="339" x2="52.5" y2="339" stroke="#231f20" stroke-width="1.1" />
<text x="48.6" y="341.9" font-size="8.3" text-anchor="end" stroke="#231f20" stroke-width="0.15" textLength="9.6" lengthAdjust="spacingAndGlyphs">80</text>
<line x1="49.5" y1="359.4" x2="52.5" y2="359.4" stroke="#231f20" stroke-width="1.1" />
<text x="48.6" y="362.3" font-size="8.3" text-anchor="end" stroke="#231f20" stroke-width="0.15" textLength="9.6" lengthAdjust="spacingAndGlyphs">60</text>
<line x1="49.5" y1="379.8" x2="52.5" y2="379.8" stroke="#231f20" stroke-width="1.1" />
<text x="48.6" y="382.7" font-size="8.3" text-anchor="end" stroke="#231f20" stroke-width="0.15" textLength="9.6" lengthAdjust="spacingAndGlyphs">40</text>
<line x1="49.5" y1="400.1" x2="52.5" y2="400.1" stroke="#231f20" stroke-width="1.1" />
<text x="48.6" y="403" font-size="8.3" text-anchor="end" stroke="#231f20" stroke-width="0.15" textLength="9.6" lengthAdjust="spacingAndGlyphs">20</text>
<line x1="49.5" y1="420.3" x2="52.5" y2="420.3" stroke="#231f20" stroke-width="1.1" />
<text x="48.6" y="423.2" font-size="8.3" text-anchor="end" stroke="#231f20" stroke-width="0.15">0</text>
<line x1="51.95" y1="420.3" x2="106.9" y2="420.3" stroke="#231f20" stroke-width="1.1" />
<line x1="63.9" y1="420.3" x2="63.9" y2="422.7" stroke="#231f20" stroke-width="1.1" />
<line x1="80.05" y1="420.3" x2="80.05" y2="422.7" stroke="#231f20" stroke-width="1.1" />
<line x1="96.3" y1="420.3" x2="96.3" y2="422.7" stroke="#231f20" stroke-width="1.1" />
<rect x="58.9" y="374.1" width="10.1" height="46.2" fill="#14508a" />
<line x1="63.95" y1="374.1" x2="63.95" y2="358.6" stroke="#231f20" stroke-width="1" />
<line x1="61.45" y1="358.6" x2="66.45" y2="358.6" stroke="#231f20" stroke-width="1" />
<rect x="75" y="406.5" width="10.1" height="13.8" fill="#8783bd" />
<line x1="80.05" y1="406.5" x2="80.05" y2="396.8" stroke="#231f20" stroke-width="1" />
<line x1="77.55" y1="396.8" x2="82.55" y2="396.8" stroke="#231f20" stroke-width="1" />
<rect x="91.3" y="411.7" width="10" height="8.6" fill="#5b276b" />
<line x1="96.3" y1="411.7" x2="96.3" y2="404.8" stroke="#231f20" stroke-width="1" />
<line x1="93.8" y1="404.8" x2="98.8" y2="404.8" stroke="#231f20" stroke-width="1" />
<line x1="56" y1="353.7" x2="81.6" y2="353.7" stroke="#231f20" stroke-width="1" />
<text x="69" y="354.54" font-size="9" text-anchor="middle" stroke="#231f20" stroke-width="0.15">*</text>
<text transform="translate(67.8 429.9) rotate(-45)" font-size="7.6" text-anchor="end">RvT2</text>
<text transform="translate(83.95 429.9) rotate(-45)" font-size="7.6" text-anchor="end">RvT2+H89</text>
<text transform="translate(100.2 429.9) rotate(-45)" font-size="7.6" text-anchor="end">H89</text>
<text x="32.2" y="377.6" font-size="10" text-anchor="middle" stroke="#231f20" stroke-width="0.05" textLength="88.2" lengthAdjust="spacingAndGlyphs" transform="rotate(-90 32.2 377.6)">% Increase of phagocytosis</text>
<text x="162.1" y="315" font-size="9" stroke="#231f20" stroke-width="0.15" textLength="81.2" lengthAdjust="spacingAndGlyphs">PKA inhibitor (H89)</text>
<line x1="159.5" y1="323.4" x2="168.4" y2="323.4" stroke="#231f20" stroke-width="1.1" />
<path d="M167.4 320.8 L171.4 323.4 L167.4 326 Z" fill="#231f20"/>
<text x="173.7" y="326.4" font-size="9" stroke="#231f20" stroke-width="0.15" textLength="58.4" lengthAdjust="spacingAndGlyphs">pAMPK levels</text>
<line x1="164.8" y1="332.5" x2="164.8" y2="420.45" stroke="#231f20" stroke-width="1.1" />
<line x1="161.8" y1="337.4" x2="164.8" y2="337.4" stroke="#231f20" stroke-width="1.1" />
<text x="159.8" y="340.3" font-size="8.3" text-anchor="end" stroke="#231f20" stroke-width="0.15" textLength="17.4" lengthAdjust="spacingAndGlyphs">4000</text>
<line x1="161.8" y1="358.1" x2="164.8" y2="358.1" stroke="#231f20" stroke-width="1.1" />
<text x="159.8" y="361" font-size="8.3" text-anchor="end" stroke="#231f20" stroke-width="0.15" textLength="17.4" lengthAdjust="spacingAndGlyphs">3500</text>
<line x1="161.8" y1="378.7" x2="164.8" y2="378.7" stroke="#231f20" stroke-width="1.1" />
<text x="159.8" y="381.6" font-size="8.3" text-anchor="end" stroke="#231f20" stroke-width="0.15" textLength="17.4" lengthAdjust="spacingAndGlyphs">3000</text>
<line x1="161.8" y1="399.4" x2="164.8" y2="399.4" stroke="#231f20" stroke-width="1.1" />
<text x="159.8" y="402.3" font-size="8.3" text-anchor="end" stroke="#231f20" stroke-width="0.15" textLength="17.4" lengthAdjust="spacingAndGlyphs">2500</text>
<line x1="161.8" y1="419.9" x2="164.8" y2="419.9" stroke="#231f20" stroke-width="1.1" />
<text x="159.8" y="422.8" font-size="8.3" text-anchor="end" stroke="#231f20" stroke-width="0.15" textLength="17.4" lengthAdjust="spacingAndGlyphs">2000</text>
<line x1="164.25" y1="419.9" x2="238" y2="419.9" stroke="#231f20" stroke-width="1.1" />
<line x1="176" y1="419.9" x2="176" y2="422.3" stroke="#231f20" stroke-width="1.1" />
<line x1="192.9" y1="419.9" x2="192.9" y2="422.3" stroke="#231f20" stroke-width="1.1" />
<line x1="210" y1="419.9" x2="210" y2="422.3" stroke="#231f20" stroke-width="1.1" />
<line x1="227" y1="419.9" x2="227" y2="422.3" stroke="#231f20" stroke-width="1.1" />
<rect x="171" y="399.4" width="10" height="20.5" fill="#c8102e" />
<line x1="176" y1="399.4" x2="176" y2="394.5" stroke="#231f20" stroke-width="1" />
<line x1="173.5" y1="394.5" x2="178.5" y2="394.5" stroke="#231f20" stroke-width="1" />
<rect x="188.1" y="360" width="9.7" height="59.9" fill="#14508a" />
<line x1="192.95" y1="360" x2="192.95" y2="356" stroke="#231f20" stroke-width="1" />
<line x1="190.45" y1="356" x2="195.45" y2="356" stroke="#231f20" stroke-width="1" />
<rect x="205.2" y="384.6" width="9.8" height="35.3" fill="#8783bd" />
<line x1="210.1" y1="384.6" x2="210.1" y2="380.3" stroke="#231f20" stroke-width="1" />
<line x1="207.6" y1="380.3" x2="212.6" y2="380.3" stroke="#231f20" stroke-width="1" />
<rect x="222" y="387.1" width="10.1" height="32.8" fill="#5b276b" />
<line x1="227.05" y1="387.1" x2="227.05" y2="381.4" stroke="#231f20" stroke-width="1" />
<line x1="224.55" y1="381.4" x2="229.55" y2="381.4" stroke="#231f20" stroke-width="1" />
<line x1="168.2" y1="349.3" x2="195.5" y2="349.3" stroke="#231f20" stroke-width="1" />
<line x1="188.8" y1="351.6" x2="216.3" y2="351.6" stroke="#231f20" stroke-width="1" />
<text x="182" y="350.64" font-size="9" text-anchor="middle" stroke="#231f20" stroke-width="0.15">**</text>
<text x="202.4" y="353.04" font-size="9" text-anchor="middle" stroke="#231f20" stroke-width="0.15">**</text>
<text transform="translate(179.9 429.5) rotate(-45)" font-size="7.6" text-anchor="end">Veh</text>
<text transform="translate(196.8 429.5) rotate(-45)" font-size="7.6" text-anchor="end">RvT2</text>
<text transform="translate(213.9 429.5) rotate(-45)" font-size="7.6" text-anchor="end">H89+RvT2</text>
<text transform="translate(230.9 429.5) rotate(-45)" font-size="7.6" text-anchor="end">H89</text>
<text x="137.2" y="377.6" font-size="10" text-anchor="middle" stroke="#231f20" stroke-width="0.05" textLength="78" lengthAdjust="spacingAndGlyphs" transform="rotate(-90 137.2 377.6)">pAMPK levels (MFI/cell)</text>
<text x="264.3" y="301.8" font-size="11.2" fill="#000" font-weight="bold">G</text>
<text x="319.2" y="316.4" font-size="9" text-anchor="middle" stroke="#231f20" stroke-width="0.15" textLength="64.1" lengthAdjust="spacingAndGlyphs">AMPK inhibitor</text>
<text x="318.7" y="325.8" font-size="9" text-anchor="middle" stroke="#231f20" stroke-width="0.15" textLength="60.7" lengthAdjust="spacingAndGlyphs">(compound C)</text>
<line x1="291.7" y1="332.8" x2="291.7" y2="420.75" stroke="#231f20" stroke-width="1.1" />
<line x1="288.7" y1="338" x2="291.7" y2="338" stroke="#231f20" stroke-width="1.1" />
<text x="287.8" y="340.9" font-size="8.3" text-anchor="end" stroke="#231f20" stroke-width="0.15" textLength="9.6" lengthAdjust="spacingAndGlyphs">40</text>
<line x1="288.7" y1="358.4" x2="291.7" y2="358.4" stroke="#231f20" stroke-width="1.1" />
<text x="287.8" y="361.3" font-size="8.3" text-anchor="end" stroke="#231f20" stroke-width="0.15" textLength="9.6" lengthAdjust="spacingAndGlyphs">30</text>
<line x1="288.7" y1="379.2" x2="291.7" y2="379.2" stroke="#231f20" stroke-width="1.1" />
<text x="287.8" y="382.1" font-size="8.3" text-anchor="end" stroke="#231f20" stroke-width="0.15" textLength="9.6" lengthAdjust="spacingAndGlyphs">20</text>
<line x1="288.7" y1="399.8" x2="291.7" y2="399.8" stroke="#231f20" stroke-width="1.1" />
<text x="287.8" y="402.7" font-size="8.3" text-anchor="end" stroke="#231f20" stroke-width="0.15" textLength="9.6" lengthAdjust="spacingAndGlyphs">10</text>
<line x1="288.7" y1="420.2" x2="291.7" y2="420.2" stroke="#231f20" stroke-width="1.1" />
<text x="287.8" y="423.1" font-size="8.3" text-anchor="end" stroke="#231f20" stroke-width="0.15">0</text>
<line x1="291.15" y1="420.2" x2="346.2" y2="420.2" stroke="#231f20" stroke-width="1.1" />
<line x1="302.9" y1="420.2" x2="302.9" y2="422.6" stroke="#231f20" stroke-width="1.1" />
<line x1="319" y1="420.2" x2="319" y2="422.6" stroke="#231f20" stroke-width="1.1" />
<line x1="335.6" y1="420.2" x2="335.6" y2="422.6" stroke="#231f20" stroke-width="1.1" />
<rect x="298" y="346.3" width="9.8" height="73.9" fill="#14508a" />
<line x1="302.9" y1="346.3" x2="302.9" y2="341.4" stroke="#231f20" stroke-width="1" />
<line x1="300.4" y1="341.4" x2="305.4" y2="341.4" stroke="#231f20" stroke-width="1" />
<rect x="314" y="392.2" width="10" height="28" fill="#8783bd" />
<line x1="319" y1="392.2" x2="319" y2="387.3" stroke="#231f20" stroke-width="1" />
<line x1="316.5" y1="387.3" x2="321.5" y2="387.3" stroke="#231f20" stroke-width="1" />
<rect x="330.4" y="407" width="10.3" height="13.2" fill="#485466" />
<line x1="335.55" y1="407" x2="335.55" y2="398.2" stroke="#231f20" stroke-width="1" />
<line x1="333.05" y1="398.2" x2="338.05" y2="398.2" stroke="#231f20" stroke-width="1" />
<line x1="295.1" y1="338.3" x2="322.7" y2="338.3" stroke="#231f20" stroke-width="1" />
<text x="309" y="340.04" font-size="9" text-anchor="middle" stroke="#231f20" stroke-width="0.15">**</text>
<text transform="translate(306.7 430.8) rotate(-45)" font-size="7.9" text-anchor="end">RvT2</text>
<text transform="translate(322.8 430.8) rotate(-45)" font-size="7.9" text-anchor="end">RvT2+Compound C</text>
<text transform="translate(339.4 430.8) rotate(-45)" font-size="7.9" text-anchor="end">Compound C</text>
<text x="272" y="377" font-size="10" text-anchor="middle" stroke="#231f20" stroke-width="0.05" textLength="88.2" lengthAdjust="spacingAndGlyphs" transform="rotate(-90 272 377)">% Increase of phagocytosis</text>
<text x="359.8" y="302" font-size="11.2" fill="#000" font-weight="bold">H</text>
<path d="M405.8 310.8 C407.63 310.37 409.8 310.02 412 309.8 C414.2 309.58 416.33 309.3 419 309.5 C421.67 309.7 424.5 310.22 428 311 C431.5 311.78 435.43 313.73 440 314.2 C444.57 314.67 451.03 313.6 455.4 313.8 C459.77 314 463.13 314.37 466.2 315.4 C469.27 316.43 471.5 317.95 473.8 320 C476.1 322.05 478.2 325.13 480 327.7 C481.8 330.27 483.02 332.77 484.6 335.4 C486.18 338.03 487.97 341.07 489.5 343.5 C491.03 345.93 492.85 347.5 493.8 350 C494.75 352.5 495.13 355.8 495.2 358.5 C495.27 361.2 494.17 363.45 494.2 366.2 C494.23 368.95 494.83 371.87 495.4 375 C495.97 378.13 497.12 382.17 497.6 385 C498.08 387.83 498.47 389.83 498.3 392 C498.13 394.17 497.6 396.03 496.6 398 C495.6 399.97 494.03 401.8 492.3 403.8 C490.57 405.8 488 408.17 486.2 410 C484.4 411.83 482.78 413 481.5 414.8 C480.22 416.6 479.27 418.52 478.5 420.8 C477.73 423.08 477.62 426.2 476.9 428.5 C476.18 430.8 475.43 432.82 474.2 434.6 C472.97 436.38 471.1 438.08 469.5 439.2 C467.9 440.32 466 441.17 464.6 441.3 C463.2 441.43 461.78 441.05 461.1 440 C460.42 438.95 460.53 437.4 460.5 435 C460.47 432.6 461.08 428.52 460.9 425.6 C460.72 422.68 460.33 419.87 459.4 417.5 C458.47 415.13 457.03 412.97 455.3 411.4 C453.57 409.83 451.38 408.67 449 408.1 C446.62 407.53 443.57 407.67 441 408 C438.43 408.33 435.73 408.97 433.6 410.1 C431.47 411.23 429.5 412.87 428.2 414.8 C426.9 416.73 426.07 419.68 425.8 421.7 C425.53 423.72 425.88 425.02 426.6 426.9 C427.32 428.78 428.8 431.27 430.1 433 C431.4 434.73 433.1 435.75 434.4 437.3 C435.7 438.85 437.23 440.77 437.9 442.3 C438.57 443.83 438.78 445.33 438.4 446.5 C438.02 447.67 436.9 448.82 435.6 449.3 C434.3 449.78 432.82 449.82 430.6 449.4 C428.38 448.98 425.12 447.88 422.3 446.8 C419.48 445.72 416.53 444.43 413.7 442.9 C410.87 441.37 407.45 439.48 405.3 437.6 C403.15 435.72 402.6 433.17 400.8 431.6 C399 430.03 396.63 429.37 394.5 428.2 C392.37 427.03 389.92 426.55 388 424.6 C386.08 422.65 384.65 419.33 383 416.5 C381.35 413.67 379.95 410.42 378.1 407.6 C376.25 404.78 373.95 402.47 371.9 399.6 C369.85 396.73 367.42 393.22 365.8 390.4 C364.18 387.58 362.97 385.47 362.2 382.7 C361.43 379.93 361.3 376.55 361.2 373.8 C361.1 371.05 361.22 368.67 361.6 366.2 C361.98 363.73 362.55 361.12 363.5 359 C364.45 356.88 365.88 355.12 367.3 353.5 C368.72 351.88 370.5 350.78 372 349.3 C373.5 347.82 375.17 346.5 376.3 344.6 C377.43 342.7 377.85 340.07 378.8 337.9 C379.75 335.73 380.72 333.42 382 331.6 C383.28 329.78 384.77 328.57 386.5 327 C388.23 325.43 390.75 324.1 392.4 322.2 C394.05 320.3 394.97 317.23 396.4 315.6 C397.83 313.97 399.43 313.2 401 312.4 C402.57 311.6 403.97 311.23 405.8 310.8 Z" fill="#bdcee0"/>
<ellipse cx="384.3" cy="373" rx="17.6" ry="18.3" fill="#29386e"/>
<g fill="none" stroke="#aedb96" stroke-width="0.5">
<path d="M431.44 416.81 C431.4 418.08 430.21 421.87 431.18 424.4 C432.15 426.92 435.8 429.45 437.27 431.98 C438.74 434.51 439.54 437.03 440.01 439.56 C440.49 442.09 439.13 444.62 440.12 447.14 C441.1 449.67 444.95 453.46 445.91 454.73"/>
<path d="M433.7 413.95 C434.15 415.36 435.56 419.56 436.37 422.37 C437.18 425.18 438.35 427.98 438.55 430.79 C438.75 433.59 436.93 436.4 437.58 439.2 C438.22 442.01 441.12 444.82 442.4 447.62 C443.69 450.43 444.81 454.64 445.29 456.04"/>
<path d="M435.21 413.43 C435.38 414.9 435.43 419.3 436.22 422.24 C437 425.18 439.58 428.11 439.94 431.05 C440.3 433.99 438.28 436.92 438.36 439.86 C438.44 442.8 439.5 445.73 440.41 448.67 C441.32 451.6 443.27 456.01 443.85 457.48"/>
<path d="M437.25 414.57 C437.37 415.96 436.88 420.12 437.98 422.9 C439.09 425.68 442.8 428.45 443.89 431.23 C444.99 434.01 444.13 436.79 444.54 439.57 C444.94 442.34 445.08 445.12 446.33 447.9 C447.57 450.68 451.06 454.84 452 456.23"/>
<path d="M439.49 411 C439.75 412.35 440.8 416.39 441.04 419.09 C441.28 421.79 439.97 424.49 440.93 427.19 C441.89 429.89 445.34 432.59 446.77 435.28 C448.21 437.98 448.8 440.68 449.54 443.38 C450.27 446.08 450.91 450.13 451.19 451.48"/>
<path d="M441.69 410.68 C442.21 412.14 444.12 416.53 444.81 419.45 C445.5 422.37 445.75 425.3 445.83 428.22 C445.91 431.14 444.45 434.06 445.28 436.99 C446.11 439.91 449.53 442.83 450.81 445.76 C452.08 448.68 452.58 453.06 452.94 454.52"/>
<path d="M444.12 412.43 C443.99 413.89 442.62 418.28 443.35 421.21 C444.07 424.13 447.06 427.05 448.45 429.98 C449.84 432.9 451.3 435.83 451.7 438.75 C452.09 441.68 450.17 444.6 450.82 447.53 C451.47 450.45 454.82 454.84 455.62 456.3"/>
<path d="M445.93 413.66 C446.26 415.13 446.82 419.53 447.92 422.47 C449.01 425.41 451.8 428.35 452.52 431.28 C453.23 434.22 451.6 437.16 452.19 440.1 C452.78 443.03 454.59 445.97 456.04 448.91 C457.49 451.85 460.09 456.25 460.9 457.72"/>
<path d="M448.08 411.78 C448.44 413.11 449.46 417.09 450.23 419.74 C451 422.39 452.54 425.04 452.72 427.69 C452.9 430.35 450.87 433 451.29 435.65 C451.71 438.3 454.1 440.95 455.24 443.61 C456.38 446.26 457.62 450.24 458.1 451.56"/>
<path d="M450.28 414.37 C450.8 415.84 452.72 420.27 453.38 423.23 C454.03 426.18 454.16 429.13 454.19 432.09 C454.23 435.04 452.78 437.99 453.59 440.94 C454.4 443.9 457.82 446.85 459.05 449.8 C460.29 452.76 460.66 457.19 460.99 458.66"/>
<path d="M451.9 413.21 C452.56 414.59 455.29 418.75 455.83 421.52 C456.37 424.29 454.81 427.06 455.15 429.83 C455.49 432.6 456.27 435.37 457.87 438.14 C459.46 440.91 463.3 443.68 464.7 446.45 C466.1 449.22 466.01 453.37 466.27 454.76"/>
<path d="M454.48 414.45 C454.57 415.88 454.68 420.16 455.05 423.01 C455.41 425.86 455.39 428.71 456.69 431.56 C457.98 434.41 461.61 437.27 462.83 440.12 C464.06 442.97 463.37 445.82 464.05 448.67 C464.72 451.52 466.41 455.8 466.88 457.23"/>
<path d="M456.2 416.75 C456.68 418.09 458.69 422.12 459.08 424.81 C459.47 427.5 457.67 430.19 458.52 432.87 C459.36 435.56 462.36 438.25 464.14 440.94 C465.92 443.63 468.05 446.31 469.18 449 C470.32 451.69 470.66 455.72 470.95 457.06"/>
</g>
<g fill="none" stroke="#8fae9c" stroke-width="0.55">
<path d="M447 407.5 C448.33 408.08 452.75 409.42 455 411 C457.25 412.58 459.08 415 460.5 417 C461.92 419 463.25 420.83 463.5 423 C463.75 425.17 462.08 427.83 462 430 C461.92 432.17 463.17 434.17 463 436 C462.83 437.83 461.33 440.17 461 441"/>
<path d="M449.2 408 C450.53 408.67 454.95 410.5 457.2 412 C459.45 413.5 461.43 415.17 462.7 417 C463.97 418.83 464.72 420.83 464.82 423 C464.92 425.17 463.44 427.83 463.32 430 C463.2 432.17 464.3 434.17 464.1 436 C463.9 437.83 462.43 440.17 462.1 441"/>
<path d="M451.4 408.5 C452.73 409.25 457.15 411.58 459.4 413 C461.65 414.42 463.78 415.33 464.9 417 C466.02 418.67 466.18 420.83 466.14 423 C466.1 425.17 464.8 427.83 464.64 430 C464.48 432.17 465.44 434.17 465.2 436 C464.96 437.83 463.53 440.17 463.2 441"/>
</g>
<circle cx="439.69" cy="442.37" r="0.53" fill="#4cb24a" />
<circle cx="440.1" cy="449.28" r="0.4" fill="#4cb24a" />
<circle cx="447.46" cy="428.51" r="0.46" fill="#4cb24a" />
<circle cx="443.73" cy="455.39" r="0.43" fill="#4cb24a" />
<circle cx="446.62" cy="454.18" r="0.61" fill="#4cb24a" />
<circle cx="440.82" cy="430.33" r="0.66" fill="#4cb24a" />
<circle cx="444.53" cy="431.85" r="0.38" fill="#4cb24a" />
<circle cx="436.88" cy="443.31" r="0.45" fill="#4cb24a" />
<circle cx="453.24" cy="434.87" r="0.53" fill="#4cb24a" />
<circle cx="452.39" cy="454.66" r="0.42" fill="#4cb24a" />
<circle cx="440.07" cy="449.58" r="0.73" fill="#4cb24a" />
<circle cx="462.23" cy="444.14" r="0.52" fill="#4cb24a" />
<circle cx="456.55" cy="430.28" r="0.68" fill="#4cb24a" />
<circle cx="453.09" cy="431.74" r="0.42" fill="#4cb24a" />
<circle cx="441.31" cy="442.37" r="0.69" fill="#4cb24a" />
<circle cx="453.66" cy="431.21" r="0.72" fill="#4cb24a" />
<circle cx="442.61" cy="437.83" r="0.37" fill="#4cb24a" />
<circle cx="439.64" cy="434.75" r="0.58" fill="#4cb24a" />
<circle cx="438.21" cy="434.49" r="0.71" fill="#4cb24a" />
<circle cx="456.12" cy="443.38" r="0.41" fill="#4cb24a" />
<circle cx="454.36" cy="439.29" r="0.64" fill="#4cb24a" />
<circle cx="436.41" cy="441.84" r="0.64" fill="#4cb24a" />
<circle cx="456.52" cy="451.73" r="0.72" fill="#4cb24a" />
<circle cx="445.26" cy="447.41" r="0.71" fill="#4cb24a" />
<circle cx="461.88" cy="436.69" r="0.67" fill="#4cb24a" />
<circle cx="461.63" cy="442.91" r="0.6" fill="#4cb24a" />
<circle cx="446.23" cy="443.31" r="0.59" fill="#4cb24a" />
<circle cx="436.57" cy="445.58" r="0.75" fill="#4cb24a" />
<circle cx="462.15" cy="449.13" r="0.51" fill="#4cb24a" />
<circle cx="457.52" cy="443.24" r="0.53" fill="#4cb24a" />
<circle cx="453.24" cy="439.24" r="0.44" fill="#4cb24a" />
<circle cx="456.35" cy="439.89" r="0.6" fill="#4cb24a" />
<circle cx="455.7" cy="428.1" r="0.42" fill="#4cb24a" />
<circle cx="462.98" cy="446.4" r="0.53" fill="#4cb24a" />
<circle cx="455.31" cy="427.94" r="0.52" fill="#4cb24a" />
<circle cx="462.17" cy="435.38" r="0.58" fill="#4cb24a" />
<circle cx="449.89" cy="453.48" r="0.69" fill="#4cb24a" />
<circle cx="448.42" cy="431.01" r="0.44" fill="#4cb24a" />
<circle cx="447.25" cy="445.03" r="0.55" fill="#4cb24a" />
<circle cx="444.09" cy="453.56" r="0.74" fill="#4cb24a" />
<circle cx="452.26" cy="432.36" r="0.67" fill="#4cb24a" />
<circle cx="454.13" cy="437.86" r="0.6" fill="#4cb24a" />
<circle cx="454.96" cy="452.3" r="0.73" fill="#4cb24a" />
<circle cx="455.9" cy="427.97" r="0.54" fill="#4cb24a" />
<circle cx="433.61" cy="444" r="0.5" fill="#8e8cae" />
<circle cx="429.51" cy="431.63" r="0.5" fill="#8e8cae" />
<circle cx="431.84" cy="443.52" r="0.5" fill="#8e8cae" />
<circle cx="434.29" cy="441.2" r="0.5" fill="#8e8cae" />
<circle cx="437.59" cy="435.02" r="0.5" fill="#8e8cae" />
<circle cx="438.09" cy="449.37" r="0.5" fill="#8e8cae" />
<circle cx="428.22" cy="450.11" r="0.5" fill="#8e8cae" />
<circle cx="437.11" cy="427.64" r="0.5" fill="#8e8cae" />
<circle cx="433.35" cy="441.52" r="0.5" fill="#8e8cae" />
<circle cx="439.74" cy="434.55" r="0.5" fill="#8e8cae" />
<circle cx="434.96" cy="448.62" r="0.5" fill="#8e8cae" />
<circle cx="438.15" cy="450.44" r="0.5" fill="#8e8cae" />
<circle cx="433.49" cy="442.24" r="0.5" fill="#8e8cae" />
<circle cx="429.87" cy="444.21" r="0.5" fill="#8e8cae" />
<circle cx="438.46" cy="441.97" r="0.5" fill="#8e8cae" />
<circle cx="437.05" cy="429.97" r="0.5" fill="#8e8cae" />
<path d="M410.8 303 C410.8 298.6 414.6 298.6 414.6 303" fill="none" stroke="#b87052" stroke-width="0.6"/>
<path d="M418.5 303 C418.5 298.6 422.6 298.6 422.6 303" fill="none" stroke="#b87052" stroke-width="0.6"/>
<path d="M426.4 303 C426.4 298.6 430.6 298.6 430.6 303" fill="none" stroke="#b87052" stroke-width="0.6"/>
<path d="M406.5 316.5 C406.5 320.8 410.8 320.8 410.8 316.5" fill="none" stroke="#b87052" stroke-width="0.6"/>
<path d="M414.6 316.5 C414.6 320.8 418.5 320.8 418.5 316.5" fill="none" stroke="#b87052" stroke-width="0.6"/>
<path d="M422.6 316.5 C422.6 320.8 426.4 320.8 426.4 316.5" fill="none" stroke="#b87052" stroke-width="0.6"/>
<path d="M406.5 303 C405.8 299 406 297.6 409 297.6 C411 297.6 412.5 297.2 414.2 297" fill="none" stroke="#b87052" stroke-width="0.6"/>
<path d="M430.6 316.5 C430.6 320 429 322 427 322.6" fill="none" stroke="#b87052" stroke-width="0.6"/>
<rect x="405.35" y="302.6" width="2.3" height="14.2" rx="1.1" fill="#dc7428"/>
<rect x="409.65" y="302.6" width="2.3" height="14.2" rx="1.1" fill="#dc7428"/>
<rect x="413.45" y="302.6" width="2.3" height="14.2" rx="1.1" fill="#dc7428"/>
<rect x="417.35" y="302.6" width="2.3" height="14.2" rx="1.1" fill="#dc7428"/>
<rect x="421.45" y="302.6" width="2.3" height="14.2" rx="1.1" fill="#dc7428"/>
<rect x="425.25" y="302.6" width="2.3" height="14.2" rx="1.1" fill="#dc7428"/>
<rect x="429.45" y="302.6" width="2.3" height="14.2" rx="1.1" fill="#dc7428"/>
<circle cx="430.2" cy="318.3" r="4.3" fill="#4e9f4f" stroke="#3a8040" stroke-width="0.5"/>
<text x="430.2" y="320.2" font-size="5.2" text-anchor="middle" fill="#e8f4e8">αs</text>
<text x="419.5" y="293.8" font-size="9.8" text-anchor="middle" stroke="#231f20" stroke-width="0.15" textLength="19.7" lengthAdjust="spacingAndGlyphs">RvT2</text>
<text x="469.6" y="311" font-size="10" text-anchor="middle" stroke="#231f20" stroke-width="0.15" textLength="53.3" lengthAdjust="spacingAndGlyphs">Macrophage</text>
<line x1="435.8" y1="318.6" x2="443.2" y2="323.2" stroke="#000" stroke-width="0.9" />
<path d="M446 325 L441.4 324.4 L443.6 320.9 Z" fill="#000"/>
<rect x="429.1" y="325.2" width="37.7" height="20.6" rx="10.3" fill="#5aa65a" stroke="#418c44" stroke-width="0.7"/>
<text x="447.7" y="333.4" font-size="7.4" text-anchor="middle" fill="#fff" textLength="23.7" lengthAdjust="spacingAndGlyphs">Protein</text>
<text x="447.7" y="342.2" font-size="7.4" text-anchor="middle" fill="#fff" textLength="27" lengthAdjust="spacingAndGlyphs">kinase A</text>
<rect x="460.8" y="322.3" width="21" height="10.8" rx="5.4" fill="#f6e2b6" stroke="#c8a560" stroke-width="0.8"/>
<text x="471.3" y="330" font-size="6.3" text-anchor="middle" stroke="#231f20" stroke-width="0.07" textLength="15.6" lengthAdjust="spacingAndGlyphs">cAMP</text>
<line x1="447.5" y1="346.4" x2="447.5" y2="357.5" stroke="#000" stroke-width="0.9" />
<path d="M447.5 361.2 L445.4 356.8 L449.6 356.8 Z" fill="#000"/>
<line x1="451.1" y1="349.2" x2="451.1" y2="354.8" stroke="#d4506c" stroke-width="1.2" />
<line x1="451.1" y1="352" x2="460.8" y2="352" stroke="#d4506c" stroke-width="1.2" />
<text x="462.8" y="354.3" font-size="7.5" stroke="#231f20" stroke-width="0.15" textLength="43.4" lengthAdjust="spacingAndGlyphs">PKA inhibitor</text>
<rect x="429.1" y="362.4" width="37.7" height="16.2" rx="8.1" fill="#3a6fc2" stroke="#2856a4" stroke-width="0.7"/>
<text x="447.7" y="373.8" font-size="7.6" text-anchor="middle" fill="#fff" textLength="21.3" lengthAdjust="spacingAndGlyphs">AMPK</text>
<circle cx="464" cy="363.8" r="6" fill="#fcd21c" stroke="#3a3000" stroke-width="0.7"/>
<text x="464" y="366.4" font-size="7" text-anchor="middle" fill="#222" stroke="#222" stroke-width="0.07">P</text>
<line x1="447.5" y1="378.8" x2="447.5" y2="390" stroke="#000" stroke-width="0.9" />
<path d="M447.5 393.8 L445.4 389.4 L449.6 389.4 Z" fill="#000"/>
<line x1="451.1" y1="383" x2="451.1" y2="388.6" stroke="#d4506c" stroke-width="1.2" />
<line x1="451.1" y1="385.7" x2="460.8" y2="385.7" stroke="#d4506c" stroke-width="1.2" />
<text x="462.8" y="388.1" font-size="7.5" stroke="#231f20" stroke-width="0.15" textLength="50.2" lengthAdjust="spacingAndGlyphs">AMPK inhibitor</text>
<text x="448.1" y="402.8" font-size="7.8" text-anchor="middle" stroke="#231f20" stroke-width="0.15" textLength="70.8" lengthAdjust="spacingAndGlyphs">Phagocytosis of NETs</text>
<text x="9.4" y="500.3" font-size="11.2" fill="#000" font-weight="bold">I</text>
<text x="122.9" y="526.2" font-size="9.3" text-anchor="middle" stroke="#231f20" stroke-width="0.07" font-style="italic" textLength="154.7" lengthAdjust="spacingAndGlyphs">Mouse peritoneal elicited Mϕ in vivo</text>
<text x="67.5" y="538.8" font-size="8.3" text-anchor="middle" stroke="#231f20" stroke-width="0.15" textLength="52" lengthAdjust="spacingAndGlyphs">NETs + vehicle</text>
<text x="176.5" y="538.8" font-size="8.3" text-anchor="middle" stroke="#231f20" stroke-width="0.15" textLength="45.3" lengthAdjust="spacingAndGlyphs">NETs + RvT2</text>
<clipPath id="cI1"><rect x="14.6" y="543" width="105.6" height="89.4"/></clipPath>
<g clip-path="url(#cI1)">
<rect x="14.6" y="543" width="105.6" height="89.4" fill="#200303" />
<circle cx="80.38" cy="609.32" r="5.28" fill="url(#gD)" opacity="0.45"/>
<circle cx="114.12" cy="609.15" r="5.73" fill="url(#gD)" opacity="0.45"/>
<circle cx="17.66" cy="584.63" r="5.8" fill="url(#gD)" opacity="0.45"/>
<circle cx="83.13" cy="623.54" r="2.9" fill="url(#gD)" opacity="0.45"/>
<circle cx="64.13" cy="565.04" r="4.4" fill="url(#gD)" opacity="0.45"/>
<circle cx="75.21" cy="544.17" r="3.26" fill="url(#gD)" opacity="0.45"/>
<circle cx="44.11" cy="624.92" r="5.18" fill="url(#gD)" opacity="0.45"/>
<circle cx="31.45" cy="614.26" r="2.99" fill="url(#gD)" opacity="0.45"/>
<circle cx="79.8" cy="554.33" r="2.51" fill="url(#gD)" opacity="0.45"/>
<circle cx="106.62" cy="561.73" r="3.25" fill="url(#gD)" opacity="0.45"/>
<circle cx="118.34" cy="620.99" r="3.51" fill="url(#gD)" opacity="0.45"/>
<circle cx="116.13" cy="591.21" r="4.87" fill="url(#gD)" opacity="0.45"/>
<circle cx="36.22" cy="627.12" r="4.92" fill="url(#gD)" opacity="0.45"/>
<circle cx="116.67" cy="622.9" r="3.55" fill="url(#gD)" opacity="0.45"/>
<circle cx="52.74" cy="557.84" r="3.01" fill="url(#gD)" opacity="0.45"/>
<circle cx="21.48" cy="569.94" r="4.61" fill="url(#gD)" opacity="0.45"/>
<circle cx="14.96" cy="603.61" r="3.68" fill="url(#gD)" opacity="0.45"/>
<circle cx="47.33" cy="616.18" r="4.18" fill="url(#gD)" opacity="0.45"/>
<circle cx="47.95" cy="586.02" r="4.97" fill="url(#gD)" opacity="0.45"/>
<circle cx="20.62" cy="630.17" r="2.58" fill="url(#gD)" opacity="0.45"/>
<circle cx="93.78" cy="618.53" r="2.56" fill="url(#gD)" opacity="0.45"/>
<circle cx="97.79" cy="575.74" r="4.52" fill="url(#gD)" opacity="0.45"/>
<circle cx="15.56" cy="547.18" r="3.13" fill="url(#gD)" opacity="0.45"/>
<circle cx="115.47" cy="560.57" r="5.15" fill="url(#gD)" opacity="0.45"/>
<circle cx="112.77" cy="627.22" r="3.71" fill="url(#gD)" opacity="0.45"/>
<circle cx="52.07" cy="589.91" r="5.21" fill="url(#gD)" opacity="0.45"/>
<circle cx="26.01" cy="609.91" r="5.29" fill="url(#gD)" opacity="0.45"/>
<circle cx="105.38" cy="546.27" r="5.81" fill="url(#gD)" opacity="0.45"/>
<circle cx="24.23" cy="573.46" r="4.64" fill="url(#gD)" opacity="0.45"/>
<circle cx="111.55" cy="573.39" r="5.73" fill="url(#gD)" opacity="0.45"/>
<g filter="url(#blur05)">
<circle cx="26.5" cy="549.3" r="6.27" fill="url(#gR)" />
<circle cx="29" cy="551.5" r="4.26" fill="url(#gR)" />
<circle cx="24" cy="547" r="3.81" fill="url(#gR)" />
<circle cx="25.4" cy="549" r="2.24" fill="url(#gG)" />
<circle cx="89.6" cy="547.6" r="2.02" fill="url(#gG)" />
<circle cx="89.6" cy="550.4" r="2.02" fill="url(#gG)" />
<circle cx="78.2" cy="574" r="2.13" fill="url(#gG)" />
<circle cx="80" cy="575.8" r="2.13" fill="url(#gG)" />
<circle cx="45.9" cy="581.9" r="4.82" fill="url(#gRing)" />
<circle cx="45.6" cy="582" r="2.24" fill="url(#gG)" />
<circle cx="107.6" cy="581.3" r="5.15" fill="url(#gRing2)" />
<circle cx="91.2" cy="590.6" r="4.93" fill="url(#gRing)" />
<circle cx="91" cy="590.8" r="2.46" fill="url(#gG)" />
<circle cx="76" cy="594" r="8.96" fill="url(#gD)" />
<circle cx="75.6" cy="591.2" r="2.69" fill="url(#gG)" />
<circle cx="75.9" cy="594.6" r="2.69" fill="url(#gG)" />
<circle cx="41.4" cy="597.4" r="2.69" fill="url(#gGR)" />
<circle cx="39.1" cy="608.7" r="4.48" fill="url(#gRing)" />
<circle cx="39" cy="608.8" r="2.13" fill="url(#gG)" />
<circle cx="28" cy="614.2" r="7.28" fill="url(#gD)" />
<circle cx="28" cy="614.2" r="2.58" fill="url(#gG)" />
<circle cx="62.4" cy="624.5" r="7.28" fill="url(#gD)" />
<circle cx="62.4" cy="624.5" r="3.14" fill="url(#gG)" />
<circle cx="93.2" cy="620.4" r="1.68" fill="url(#gG)" />
<circle cx="15" cy="594.3" r="2.46" fill="url(#gG)" />
<circle cx="80.4" cy="564.5" r="1.34" fill="url(#gG)" />
</g>
<line x1="97.2" y1="547" x2="117.3" y2="547" stroke="#d8d8d8" stroke-width="1.3" />
</g>
<clipPath id="cI2"><rect x="124" y="542.7" width="106" height="89.7"/></clipPath>
<g clip-path="url(#cI2)">
<rect x="124" y="542.7" width="106" height="89.7" fill="#160202" />
<circle cx="208.09" cy="616.43" r="4.2" fill="url(#gD)" opacity="0.35"/>
<circle cx="151.73" cy="542.74" r="4.82" fill="url(#gD)" opacity="0.35"/>
<circle cx="173.85" cy="610.85" r="3.81" fill="url(#gD)" opacity="0.35"/>
<circle cx="205.63" cy="567.16" r="5.31" fill="url(#gD)" opacity="0.35"/>
<circle cx="201.36" cy="579.84" r="4.38" fill="url(#gD)" opacity="0.35"/>
<circle cx="196.3" cy="560.01" r="4.44" fill="url(#gD)" opacity="0.35"/>
<circle cx="209.34" cy="566.52" r="5.31" fill="url(#gD)" opacity="0.35"/>
<circle cx="196.68" cy="618.43" r="3.67" fill="url(#gD)" opacity="0.35"/>
<circle cx="133.87" cy="614.49" r="5.32" fill="url(#gD)" opacity="0.35"/>
<circle cx="171.19" cy="551.11" r="3.19" fill="url(#gD)" opacity="0.35"/>
<circle cx="191.3" cy="568.82" r="5.83" fill="url(#gD)" opacity="0.35"/>
<circle cx="186.39" cy="560.72" r="4.79" fill="url(#gD)" opacity="0.35"/>
<circle cx="162.2" cy="626.37" r="5.68" fill="url(#gD)" opacity="0.35"/>
<circle cx="178.55" cy="600.52" r="4.94" fill="url(#gD)" opacity="0.35"/>
<circle cx="209.38" cy="630.28" r="2.6" fill="url(#gD)" opacity="0.35"/>
<circle cx="162.31" cy="596.68" r="3.57" fill="url(#gD)" opacity="0.35"/>
<circle cx="186.45" cy="550.74" r="5.58" fill="url(#gD)" opacity="0.35"/>
<circle cx="179.68" cy="553.18" r="4.82" fill="url(#gD)" opacity="0.35"/>
<circle cx="157.1" cy="560.3" r="4.19" fill="url(#gD)" opacity="0.35"/>
<circle cx="138.64" cy="561.53" r="5.53" fill="url(#gD)" opacity="0.35"/>
<g filter="url(#blur05)">
<circle cx="131.7" cy="552.8" r="4.37" fill="url(#gLY)" />
<circle cx="149.5" cy="571.5" r="5.26" fill="url(#gLY)" />
<circle cx="153.6" cy="581.7" r="5.6" fill="url(#gD)" />
<circle cx="153.6" cy="581.5" r="2.91" fill="url(#gG)" />
<circle cx="165.2" cy="584.2" r="5.6" fill="url(#gD)" />
<circle cx="165.2" cy="584.2" r="2.8" fill="url(#gG)" />
<circle cx="184.1" cy="582.7" r="2.35" fill="url(#gG)" />
<circle cx="208" cy="554.2" r="5.04" fill="url(#gD)" />
<circle cx="208" cy="554.2" r="3.36" fill="url(#gR)" />
<circle cx="208" cy="554.2" r="2.24" fill="url(#gG)" />
<circle cx="215.7" cy="563.8" r="2.13" fill="url(#gG)" />
<circle cx="141.9" cy="608.2" r="4.48" fill="url(#gD)" />
<circle cx="141.9" cy="608.2" r="1.9" fill="url(#gG)" />
<circle cx="183.1" cy="609.2" r="2.46" fill="url(#gG)" />
<circle cx="199.8" cy="612.3" r="3.02" fill="url(#gG)" />
<circle cx="211.6" cy="609.2" r="4.03" fill="url(#gR)" />
<circle cx="211.6" cy="609.2" r="2.02" fill="url(#gG)" />
<circle cx="219" cy="616.8" r="4.93" fill="url(#gR)" />
<circle cx="219" cy="616.8" r="2.58" fill="url(#gG)" />
<circle cx="224.7" cy="628.2" r="4.26" fill="url(#gR)" />
<circle cx="224.7" cy="628.2" r="2.35" fill="url(#gG)" />
<circle cx="141.3" cy="586.8" r="5.04" fill="url(#gD)" />
<circle cx="156.2" cy="601.1" r="5.6" fill="url(#gD)" />
<circle cx="181" cy="587.8" r="5.04" fill="url(#gD)" />
<circle cx="124.5" cy="585" r="3.36" fill="url(#gD)" />
</g>
</g>
<g>
<line x1="96.8" y1="577.5" x2="93.66" y2="583.85" stroke="#fff" stroke-width="1.1" />
<path d="M92.6 586 L92.22 582.25 L95.81 584.02 Z" fill="#fff"/>
<line x1="148.3" y1="553.2" x2="140.4" y2="553.2" stroke="#fff" stroke-width="1.1" />
<path d="M138 553.2 L141.2 551.2 L141.2 555.2 Z" fill="#fff"/>
<line x1="157.6" y1="557.7" x2="153.59" y2="563.98" stroke="#fff" stroke-width="1.1" />
<path d="M152.3 566 L152.34 562.23 L155.71 564.38 Z" fill="#fff"/>
</g>
<text x="64.6" y="644" font-size="8.3" fill="#3aa845" stroke="#3aa845" stroke-width="0.15" textLength="65.6" lengthAdjust="spacingAndGlyphs">NETs (sytox green)</text>
<text x="132.7" y="644" font-size="8.3" fill="#c8102e" stroke="#c8102e" stroke-width="0.15" textLength="38.1" lengthAdjust="spacingAndGlyphs">Mϕ (F4/80)</text>
<text x="250.3" y="500.5" font-size="11.2" fill="#000" font-weight="bold">J</text>
<text x="255.6" y="529.6" font-size="10.2" text-anchor="middle" stroke="#231f20" stroke-width="0.05" textLength="26.2" lengthAdjust="spacingAndGlyphs" transform="rotate(-90 255.6 529.6)">MFI/cell</text>
<text x="256.2" y="597.5" font-size="10.2" text-anchor="middle" stroke="#231f20" stroke-width="0.05" textLength="26.2" lengthAdjust="spacingAndGlyphs" transform="rotate(-90 256.2 597.5)">MFI/cell</text>
<line x1="289.2" y1="505.3" x2="289.2" y2="554.05" stroke="#231f20" stroke-width="1.1" />
<line x1="286.2" y1="510.4" x2="289.2" y2="510.4" stroke="#231f20" stroke-width="1.1" />
<text x="284.2" y="513.1" font-size="7.6" text-anchor="end" stroke="#231f20" stroke-width="0.15" textLength="21.8" lengthAdjust="spacingAndGlyphs">15000</text>
<line x1="286.2" y1="525" x2="289.2" y2="525" stroke="#231f20" stroke-width="1.1" />
<text x="284.2" y="527.7" font-size="7.6" text-anchor="end" stroke="#231f20" stroke-width="0.15" textLength="21.8" lengthAdjust="spacingAndGlyphs">10000</text>
<line x1="286.2" y1="539.2" x2="289.2" y2="539.2" stroke="#231f20" stroke-width="1.1" />
<text x="284.2" y="541.9" font-size="7.6" text-anchor="end" stroke="#231f20" stroke-width="0.15" textLength="17.6" lengthAdjust="spacingAndGlyphs">5000</text>
<line x1="286.2" y1="553.5" x2="289.2" y2="553.5" stroke="#231f20" stroke-width="1.1" />
<text x="284.2" y="556.2" font-size="7.6" text-anchor="end" stroke="#231f20" stroke-width="0.15">0</text>
<line x1="288.65" y1="553.5" x2="324.7" y2="553.5" stroke="#231f20" stroke-width="1.1" />
<line x1="297.3" y1="553.5" x2="297.3" y2="555.9" stroke="#231f20" stroke-width="1.1" />
<line x1="315" y1="553.5" x2="315" y2="555.9" stroke="#231f20" stroke-width="1.1" />
<rect x="293.6" y="532.2" width="7.4" height="21.3" fill="#e08696" />
<rect x="311.1" y="520.3" width="7.8" height="33.2" fill="#86a7c5" />
<circle cx="292.2" cy="527.1" r="1.2" fill="#c8102e" />
<circle cx="294.6" cy="527.9" r="1.2" fill="#c8102e" />
<circle cx="297" cy="527.9" r="1.2" fill="#c8102e" />
<circle cx="299.4" cy="527.9" r="1.2" fill="#c8102e" />
<circle cx="302.3" cy="526.9" r="1.2" fill="#c8102e" />
<circle cx="297.3" cy="529.3" r="1.2" fill="#c8102e" />
<circle cx="294.4" cy="532.2" r="1.2" fill="#c8102e" />
<circle cx="296.2" cy="532.2" r="1.2" fill="#c8102e" />
<circle cx="298.2" cy="532.2" r="1.2" fill="#c8102e" />
<circle cx="300.1" cy="532.2" r="1.2" fill="#c8102e" />
<circle cx="297.3" cy="531" r="1.2" fill="#c8102e" />
<circle cx="311" cy="515.4" r="1.2" fill="#135a9a" />
<circle cx="315" cy="515.4" r="1.2" fill="#135a9a" />
<circle cx="318.7" cy="513.8" r="1.2" fill="#135a9a" />
<circle cx="318.7" cy="515.9" r="1.2" fill="#135a9a" />
<circle cx="311" cy="518.3" r="1.2" fill="#135a9a" />
<circle cx="318.7" cy="519.2" r="1.2" fill="#135a9a" />
<circle cx="315" cy="520.2" r="1.2" fill="#135a9a" />
<circle cx="311" cy="525.8" r="1.2" fill="#135a9a" />
<circle cx="315" cy="525.8" r="1.2" fill="#135a9a" />
<circle cx="318.7" cy="525.8" r="1.2" fill="#135a9a" />
<line x1="295" y1="530.7" x2="299.6" y2="530.7" stroke="#c8102e" stroke-width="0.9" />
<line x1="297.3" y1="530.7" x2="297.3" y2="533.7" stroke="#c8102e" stroke-width="0.9" />
<line x1="312.7" y1="518.3" x2="317.3" y2="518.3" stroke="#135a9a" stroke-width="0.9" />
<line x1="315" y1="518.3" x2="315" y2="521.8" stroke="#135a9a" stroke-width="0.9" />
<line x1="359.9" y1="505.1" x2="359.9" y2="553.65" stroke="#231f20" stroke-width="1.1" />
<line x1="356.9" y1="510.1" x2="359.9" y2="510.1" stroke="#231f20" stroke-width="1.1" />
<text x="354.9" y="512.8" font-size="7.6" text-anchor="end" stroke="#231f20" stroke-width="0.15" textLength="21.8" lengthAdjust="spacingAndGlyphs">15000</text>
<line x1="356.9" y1="524.3" x2="359.9" y2="524.3" stroke="#231f20" stroke-width="1.1" />
<text x="354.9" y="527" font-size="7.6" text-anchor="end" stroke="#231f20" stroke-width="0.15" textLength="21.8" lengthAdjust="spacingAndGlyphs">10000</text>
<line x1="356.9" y1="538.7" x2="359.9" y2="538.7" stroke="#231f20" stroke-width="1.1" />
<text x="354.9" y="541.4" font-size="7.6" text-anchor="end" stroke="#231f20" stroke-width="0.15" textLength="17.6" lengthAdjust="spacingAndGlyphs">5000</text>
<line x1="356.9" y1="553.1" x2="359.9" y2="553.1" stroke="#231f20" stroke-width="1.1" />
<text x="354.9" y="555.8" font-size="7.6" text-anchor="end" stroke="#231f20" stroke-width="0.15">0</text>
<line x1="359.35" y1="553.1" x2="395.4" y2="553.1" stroke="#231f20" stroke-width="1.1" />
<line x1="368.15" y1="553.1" x2="368.15" y2="555.5" stroke="#231f20" stroke-width="1.1" />
<line x1="386.05" y1="553.1" x2="386.05" y2="555.5" stroke="#231f20" stroke-width="1.1" />
<rect x="364.3" y="533.4" width="7.7" height="19.7" fill="#e08696" />
<rect x="382.2" y="526.6" width="7.7" height="26.5" fill="#86a7c5" />
<circle cx="364.3" cy="530.3" r="1.2" fill="#c8102e" />
<circle cx="368.1" cy="527" r="1.2" fill="#c8102e" />
<circle cx="368.1" cy="528.9" r="1.2" fill="#c8102e" />
<circle cx="372" cy="531.3" r="1.2" fill="#c8102e" />
<circle cx="364.3" cy="535.4" r="1.2" fill="#c8102e" />
<circle cx="368.1" cy="533" r="1.2" fill="#c8102e" />
<circle cx="372" cy="535.4" r="1.2" fill="#c8102e" />
<circle cx="368.1" cy="536.3" r="1.2" fill="#c8102e" />
<circle cx="364.5" cy="533.3" r="1.2" fill="#c8102e" />
<circle cx="372" cy="533.2" r="1.2" fill="#c8102e" />
<circle cx="381.8" cy="519" r="1.2" fill="#135a9a" />
<circle cx="385.9" cy="519.9" r="1.2" fill="#135a9a" />
<circle cx="385.9" cy="523.9" r="1.2" fill="#135a9a" />
<circle cx="382.2" cy="528" r="1.2" fill="#135a9a" />
<circle cx="385.9" cy="527" r="1.2" fill="#135a9a" />
<circle cx="389.2" cy="528" r="1.2" fill="#135a9a" />
<circle cx="382.2" cy="531.3" r="1.2" fill="#135a9a" />
<circle cx="385.9" cy="531.3" r="1.2" fill="#135a9a" />
<circle cx="389.2" cy="531.3" r="1.2" fill="#135a9a" />
<line x1="365.85" y1="531.9" x2="370.45" y2="531.9" stroke="#c8102e" stroke-width="0.9" />
<line x1="368.15" y1="531.9" x2="368.15" y2="534.9" stroke="#c8102e" stroke-width="0.9" />
<line x1="383.75" y1="524.6" x2="388.35" y2="524.6" stroke="#135a9a" stroke-width="0.9" />
<line x1="386.05" y1="524.6" x2="386.05" y2="528.1" stroke="#135a9a" stroke-width="0.9" />
<line x1="289.5" y1="570.5" x2="289.5" y2="623.15" stroke="#231f20" stroke-width="1.1" />
<line x1="286.5" y1="575.4" x2="289.5" y2="575.4" stroke="#231f20" stroke-width="1.1" />
<text x="284.5" y="578.1" font-size="7.6" text-anchor="end" stroke="#231f20" stroke-width="0.15" textLength="21.8" lengthAdjust="spacingAndGlyphs">15000</text>
<line x1="286.5" y1="591.5" x2="289.5" y2="591.5" stroke="#231f20" stroke-width="1.1" />
<text x="284.5" y="594.2" font-size="7.6" text-anchor="end" stroke="#231f20" stroke-width="0.15" textLength="21.8" lengthAdjust="spacingAndGlyphs">10000</text>
<line x1="286.5" y1="606.9" x2="289.5" y2="606.9" stroke="#231f20" stroke-width="1.1" />
<text x="284.5" y="609.6" font-size="7.6" text-anchor="end" stroke="#231f20" stroke-width="0.15" textLength="17.6" lengthAdjust="spacingAndGlyphs">5000</text>
<line x1="286.5" y1="622.6" x2="289.5" y2="622.6" stroke="#231f20" stroke-width="1.1" />
<text x="284.5" y="625.3" font-size="7.6" text-anchor="end" stroke="#231f20" stroke-width="0.15">0</text>
<line x1="288.95" y1="622.6" x2="325" y2="622.6" stroke="#231f20" stroke-width="1.1" />
<line x1="298.5" y1="622.6" x2="298.5" y2="625" stroke="#231f20" stroke-width="1.1" />
<line x1="317" y1="622.6" x2="317" y2="625" stroke="#231f20" stroke-width="1.1" />
<rect x="294.2" y="598.5" width="8.6" height="24.1" fill="#e08696" />
<rect x="313" y="588.5" width="8" height="34.1" fill="#86a7c5" />
<circle cx="296.2" cy="590.8" r="1.2" fill="#c8102e" />
<circle cx="300.3" cy="590" r="1.2" fill="#c8102e" />
<circle cx="296.2" cy="593" r="1.2" fill="#c8102e" />
<circle cx="297.7" cy="597.7" r="1.2" fill="#c8102e" />
<circle cx="294.6" cy="600.3" r="1.2" fill="#c8102e" />
<circle cx="300.3" cy="600.3" r="1.2" fill="#c8102e" />
<circle cx="296.2" cy="604.6" r="1.2" fill="#c8102e" />
<circle cx="300.3" cy="603.8" r="1.2" fill="#c8102e" />
<circle cx="297.7" cy="601.5" r="1.2" fill="#c8102e" />
<circle cx="311.8" cy="577.3" r="1.2" fill="#135a9a" />
<circle cx="315.8" cy="578.5" r="1.2" fill="#135a9a" />
<circle cx="319.2" cy="579.6" r="1.2" fill="#135a9a" />
<circle cx="315.8" cy="584.2" r="1.2" fill="#135a9a" />
<circle cx="311.8" cy="594.6" r="1.2" fill="#135a9a" />
<circle cx="315.8" cy="596.9" r="1.2" fill="#135a9a" />
<circle cx="320.2" cy="595.8" r="1.2" fill="#135a9a" />
<circle cx="313.3" cy="591" r="1.2" fill="#135a9a" />
<line x1="296.2" y1="597" x2="300.8" y2="597" stroke="#c8102e" stroke-width="0.9" />
<line x1="298.5" y1="597" x2="298.5" y2="600" stroke="#c8102e" stroke-width="0.9" />
<line x1="314.7" y1="586.5" x2="319.3" y2="586.5" stroke="#135a9a" stroke-width="0.9" />
<line x1="317" y1="586.5" x2="317" y2="590" stroke="#135a9a" stroke-width="0.9" />
<text x="298.5" y="635" font-size="8.4" text-anchor="middle" stroke="#231f20" stroke-width="0.15" textLength="12.8" lengthAdjust="spacingAndGlyphs">Veh</text>
<text x="317.5" y="635" font-size="8.4" text-anchor="middle" stroke="#231f20" stroke-width="0.15" textLength="17.3" lengthAdjust="spacingAndGlyphs">RvT2</text>
<line x1="284.6" y1="637.8" x2="330.8" y2="637.8" stroke="#231f20" stroke-width="1" />
<text x="308.5" y="650.5" font-size="8.6" text-anchor="middle" stroke="#231f20" stroke-width="0.15" textLength="22.5" lengthAdjust="spacingAndGlyphs">+ NETs</text>
<line x1="358.6" y1="570.4" x2="358.6" y2="623.15" stroke="#231f20" stroke-width="1.1" />
<line x1="355.6" y1="575.7" x2="358.6" y2="575.7" stroke="#231f20" stroke-width="1.1" />
<text x="353.6" y="578.4" font-size="7.6" text-anchor="end" stroke="#231f20" stroke-width="0.15" textLength="21.8" lengthAdjust="spacingAndGlyphs">25000</text>
<line x1="355.6" y1="584.9" x2="358.6" y2="584.9" stroke="#231f20" stroke-width="1.1" />
<text x="353.6" y="587.6" font-size="7.6" text-anchor="end" stroke="#231f20" stroke-width="0.15" textLength="21.8" lengthAdjust="spacingAndGlyphs">20000</text>
<line x1="355.6" y1="594.6" x2="358.6" y2="594.6" stroke="#231f20" stroke-width="1.1" />
<text x="353.6" y="597.3" font-size="7.6" text-anchor="end" stroke="#231f20" stroke-width="0.15" textLength="21.8" lengthAdjust="spacingAndGlyphs">15000</text>
<line x1="355.6" y1="603.8" x2="358.6" y2="603.8" stroke="#231f20" stroke-width="1.1" />
<text x="353.6" y="606.5" font-size="7.6" text-anchor="end" stroke="#231f20" stroke-width="0.15" textLength="21.8" lengthAdjust="spacingAndGlyphs">10000</text>
<line x1="355.6" y1="613.1" x2="358.6" y2="613.1" stroke="#231f20" stroke-width="1.1" />
<text x="353.6" y="615.8" font-size="7.6" text-anchor="end" stroke="#231f20" stroke-width="0.15" textLength="17.6" lengthAdjust="spacingAndGlyphs">5000</text>
<line x1="355.6" y1="622.6" x2="358.6" y2="622.6" stroke="#231f20" stroke-width="1.1" />
<text x="353.6" y="625.3" font-size="7.6" text-anchor="end" stroke="#231f20" stroke-width="0.15">0</text>
<line x1="358.05" y1="622.6" x2="394.1" y2="622.6" stroke="#231f20" stroke-width="1.1" />
<line x1="367.5" y1="622.6" x2="367.5" y2="625" stroke="#231f20" stroke-width="1.1" />
<line x1="386.3" y1="622.6" x2="386.3" y2="625" stroke="#231f20" stroke-width="1.1" />
<rect x="363.2" y="601" width="8.6" height="21.6" fill="#e08696" />
<rect x="382.1" y="591.2" width="8.4" height="31.4" fill="#86a7c5" />
<circle cx="363.5" cy="596.9" r="1.2" fill="#c8102e" />
<circle cx="367.8" cy="595.5" r="1.2" fill="#c8102e" />
<circle cx="371.7" cy="594.9" r="1.2" fill="#c8102e" />
<circle cx="371.7" cy="598" r="1.2" fill="#c8102e" />
<circle cx="363.4" cy="602.5" r="1.2" fill="#c8102e" />
<circle cx="371.7" cy="602.6" r="1.2" fill="#c8102e" />
<circle cx="367.8" cy="604.6" r="1.2" fill="#c8102e" />
<circle cx="363.4" cy="606.2" r="1.2" fill="#c8102e" />
<circle cx="371.7" cy="605.7" r="1.2" fill="#c8102e" />
<circle cx="367.8" cy="600.5" r="1.2" fill="#c8102e" />
<circle cx="386.4" cy="576.1" r="1.2" fill="#135a9a" />
<circle cx="384.1" cy="580" r="1.2" fill="#135a9a" />
<circle cx="388.5" cy="579.8" r="1.2" fill="#135a9a" />
<circle cx="386.4" cy="594.1" r="1.2" fill="#135a9a" />
<circle cx="386.4" cy="597.5" r="1.2" fill="#135a9a" />
<circle cx="384.1" cy="605.7" r="1.2" fill="#135a9a" />
<circle cx="388.5" cy="604.3" r="1.2" fill="#135a9a" />
<line x1="365.2" y1="599.5" x2="369.8" y2="599.5" stroke="#c8102e" stroke-width="0.9" />
<line x1="367.5" y1="599.5" x2="367.5" y2="602.5" stroke="#c8102e" stroke-width="0.9" />
<line x1="384" y1="589.2" x2="388.6" y2="589.2" stroke="#135a9a" stroke-width="0.9" />
<line x1="386.3" y1="589.2" x2="386.3" y2="592.7" stroke="#135a9a" stroke-width="0.9" />
<text x="367.5" y="635" font-size="8.4" text-anchor="middle" stroke="#231f20" stroke-width="0.15" textLength="12.8" lengthAdjust="spacingAndGlyphs">Veh</text>
<text x="386.8" y="635" font-size="8.4" text-anchor="middle" stroke="#231f20" stroke-width="0.15" textLength="17.3" lengthAdjust="spacingAndGlyphs">RvT2</text>
<line x1="355" y1="637.8" x2="398.9" y2="637.8" stroke="#231f20" stroke-width="1" />
<text x="377.75" y="650.5" font-size="8.6" text-anchor="middle" stroke="#231f20" stroke-width="0.15" textLength="22.5" lengthAdjust="spacingAndGlyphs">+ NETs</text>
<text x="404.2" y="500.3" font-size="11.2" fill="#000" font-weight="bold">K</text>
<line x1="441.6" y1="524.5" x2="441.6" y2="604.35" stroke="#231f20" stroke-width="1.1" />
<line x1="438.6" y1="529.7" x2="441.6" y2="529.7" stroke="#231f20" stroke-width="1.1" />
<text x="437.8" y="532.6" font-size="8.3" text-anchor="end" stroke="#231f20" stroke-width="0.15" textLength="22" lengthAdjust="spacingAndGlyphs">16000</text>
<line x1="438.6" y1="548.1" x2="441.6" y2="548.1" stroke="#231f20" stroke-width="1.1" />
<text x="437.8" y="551" font-size="8.3" text-anchor="end" stroke="#231f20" stroke-width="0.15" textLength="22" lengthAdjust="spacingAndGlyphs">12000</text>
<line x1="438.6" y1="566.8" x2="441.6" y2="566.8" stroke="#231f20" stroke-width="1.1" />
<text x="437.8" y="569.7" font-size="8.3" text-anchor="end" stroke="#231f20" stroke-width="0.15" textLength="17.6" lengthAdjust="spacingAndGlyphs">8000</text>
<line x1="438.6" y1="585.4" x2="441.6" y2="585.4" stroke="#231f20" stroke-width="1.1" />
<text x="437.8" y="588.3" font-size="8.3" text-anchor="end" stroke="#231f20" stroke-width="0.15" textLength="17.6" lengthAdjust="spacingAndGlyphs">4000</text>
<line x1="438.6" y1="603.8" x2="441.6" y2="603.8" stroke="#231f20" stroke-width="1.1" />
<text x="437.8" y="606.7" font-size="8.3" text-anchor="end" stroke="#231f20" stroke-width="0.15">0</text>
<line x1="441.05" y1="603.8" x2="508.5" y2="603.8" stroke="#231f20" stroke-width="1.1" />
<line x1="462" y1="603.8" x2="462" y2="606.2" stroke="#231f20" stroke-width="1.1" />
<line x1="492.6" y1="603.8" x2="492.6" y2="606.2" stroke="#231f20" stroke-width="1.1" />
<rect x="452.3" y="563.3" width="19.5" height="40.5" fill="#c8102e" />
<line x1="462.05" y1="563.3" x2="462.05" y2="558.1" stroke="#231f20" stroke-width="1" />
<line x1="458.05" y1="558.1" x2="466.05" y2="558.1" stroke="#231f20" stroke-width="1" />
<rect x="482.7" y="547.5" width="19.8" height="56.3" fill="#14508a" />
<line x1="492.6" y1="547.5" x2="492.6" y2="539.5" stroke="#231f20" stroke-width="1" />
<line x1="488.6" y1="539.5" x2="496.6" y2="539.5" stroke="#231f20" stroke-width="1" />
<text x="492.4" y="540.54" font-size="9" text-anchor="middle" stroke="#231f20" stroke-width="0.15">*</text>
<text x="462" y="616.4" font-size="8.6" text-anchor="middle" stroke="#231f20" stroke-width="0.15" textLength="25.2" lengthAdjust="spacingAndGlyphs">Vehicle</text>
<text x="492.4" y="616.4" font-size="8.6" text-anchor="middle" stroke="#231f20" stroke-width="0.15" textLength="17.2" lengthAdjust="spacingAndGlyphs">RvT2</text>
<line x1="440.2" y1="619.9" x2="509.7" y2="619.9" stroke="#231f20" stroke-width="1" />
<text x="475.2" y="631.4" font-size="8.6" text-anchor="middle" stroke="#231f20" stroke-width="0.15" textLength="23" lengthAdjust="spacingAndGlyphs">+ NETs</text>
<text x="412.3" y="561.5" font-size="10.2" text-anchor="middle" stroke="#231f20" stroke-width="0.05" textLength="32.5" lengthAdjust="spacingAndGlyphs" transform="rotate(-90 412.3 561.5)">MFI/cell</text>
<rect x="0.5" y="0.5" width="519" height="658" fill="none" stroke="#000" stroke-width="1.2"/>
</svg>
</body></html>
